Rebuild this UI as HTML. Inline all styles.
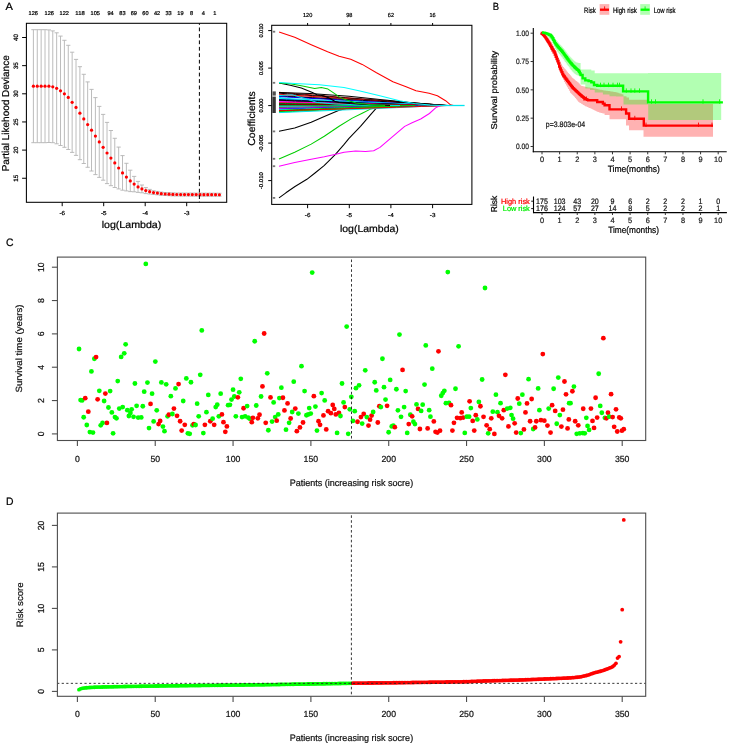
<!DOCTYPE html>
<html><head><meta charset="utf-8"><title>Figure</title>
<style>
html,body{margin:0;padding:0;background:#fff;}
body{width:729px;height:743px;overflow:hidden;}
svg{display:block;will-change:transform;}
text{font-family:"Liberation Sans", sans-serif;text-rendering:geometricPrecision;}
</style></head>
<body>
<svg width="729" height="743" viewBox="0 0 729 743" font-family='"Liberation Sans", sans-serif'>
<rect x="0" y="0" width="729" height="743" fill="#fff"/>
<text x="9.30" y="10.20" font-size="10.4" text-anchor="middle" fill="#000" stroke="#000" stroke-width="0.22" textLength="7.40" lengthAdjust="spacingAndGlyphs" >A</text>
<path d="M33.40,29.70V142.70M31.30,29.70H35.50M31.30,142.70H35.50M37.27,29.70V142.70M35.17,29.70H39.38M35.17,142.70H39.38M41.15,29.70V142.70M39.05,29.70H43.25M39.05,142.70H43.25M45.02,29.70V142.70M42.92,29.70H47.12M42.92,142.70H47.12M48.90,29.90V142.50M46.80,29.90H51.00M46.80,142.50H51.00M52.77,30.90V142.70M50.67,30.90H54.88M50.67,142.70H54.88M56.65,32.80V143.80M54.55,32.80H58.75M54.55,143.80H58.75M60.52,36.10V145.50M58.42,36.10H62.62M58.42,145.50H62.62M64.40,40.30V147.30M62.30,40.30H66.50M62.30,147.30H66.50M68.28,45.30V149.50M66.18,45.30H70.38M66.18,149.50H70.38M72.15,52.20V152.40M70.05,52.20H74.25M70.05,152.40H74.25M76.03,59.40V155.40M73.93,59.40H78.12M73.93,155.40H78.12M79.90,66.70V159.70M77.80,66.70H82.00M77.80,159.70H82.00M83.78,74.30V163.50M81.68,74.30H85.88M81.68,163.50H85.88M87.65,81.90V167.30M85.55,81.90H89.75M85.55,167.30H89.75M91.53,89.40V171.00M89.43,89.40H93.62M89.43,171.00H93.62M95.40,97.60V174.60M93.30,97.60H97.50M93.30,174.60H97.50M99.28,106.40V177.40M97.18,106.40H101.38M97.18,177.40H101.38M103.15,114.40V180.20M101.05,114.40H105.25M101.05,180.20H105.25M107.03,122.40V183.60M104.93,122.40H109.12M104.93,183.60H109.12M110.90,130.50V185.70M108.80,130.50H113.00M108.80,185.70H113.00M114.78,138.30V187.50M112.68,138.30H116.88M112.68,187.50H116.88M118.65,147.10V188.90M116.55,147.10H120.75M116.55,188.90H120.75M122.53,155.60V190.20M120.43,155.60H124.62M120.43,190.20H124.62M126.40,163.30V190.90M124.30,163.30H128.50M124.30,190.90H128.50M130.28,170.20V191.60M128.18,170.20H132.38M128.18,191.60H132.38M134.15,176.40V191.80M132.05,176.40H136.25M132.05,191.80H136.25M138.03,181.40V192.40M135.93,181.40H140.12M135.93,192.40H140.12M141.90,185.00V192.80M139.80,185.00H144.00M139.80,192.80H144.00M145.78,187.60V193.60M143.68,187.60H147.88M143.68,193.60H147.88M149.65,189.40V194.00M147.55,189.40H151.75M147.55,194.00H151.75M153.53,190.70V194.50M151.43,190.70H155.62M151.43,194.50H155.62M157.40,191.40V194.80M155.30,191.40H159.50M155.30,194.80H159.50M161.28,192.10V195.30M159.18,192.10H163.38M159.18,195.30H163.38M165.15,192.50V195.50M163.05,192.50H167.25M163.05,195.50H167.25M169.03,192.70V195.70M166.93,192.70H171.12M166.93,195.70H171.12M172.90,192.90V195.90M170.80,192.90H175.00M170.80,195.90H175.00M176.78,193.02V196.02M174.68,193.02H178.88M174.68,196.02H178.88M180.65,193.04V196.04M178.55,193.04H182.75M178.55,196.04H182.75M184.53,193.06V196.06M182.43,193.06H186.62M182.43,196.06H186.62M188.40,193.08V196.08M186.30,193.08H190.50M186.30,196.08H190.50M192.28,193.10V196.10M190.18,193.10H194.38M190.18,196.10H194.38M196.15,193.12V196.12M194.05,193.12H198.25M194.05,196.12H198.25M200.03,193.14V196.14M197.93,193.14H202.12M197.93,196.14H202.12M203.90,193.16V196.16M201.80,193.16H206.00M201.80,196.16H206.00M207.78,193.18V196.18M205.68,193.18H209.88M205.68,196.18H209.88M211.65,193.20V196.20M209.55,193.20H213.75M209.55,196.20H213.75M215.53,193.22V196.22M213.43,193.22H217.62M213.43,196.22H217.62M219.40,193.24V196.24M217.30,193.24H221.50M217.30,196.24H221.50" stroke="#b4b4b4" stroke-width="0.9" fill="none"/>
<g fill="#ff0000"><circle cx="33.40" cy="86.20" r="1.6"/><circle cx="37.27" cy="86.20" r="1.6"/><circle cx="41.15" cy="86.20" r="1.6"/><circle cx="45.02" cy="86.20" r="1.6"/><circle cx="48.90" cy="86.20" r="1.6"/><circle cx="52.77" cy="86.80" r="1.6"/><circle cx="56.65" cy="88.30" r="1.6"/><circle cx="60.52" cy="90.80" r="1.6"/><circle cx="64.40" cy="93.80" r="1.6"/><circle cx="68.28" cy="97.40" r="1.6"/><circle cx="72.15" cy="102.30" r="1.6"/><circle cx="76.03" cy="107.40" r="1.6"/><circle cx="79.90" cy="113.20" r="1.6"/><circle cx="83.78" cy="118.90" r="1.6"/><circle cx="87.65" cy="124.60" r="1.6"/><circle cx="91.53" cy="130.20" r="1.6"/><circle cx="95.40" cy="136.10" r="1.6"/><circle cx="99.28" cy="141.90" r="1.6"/><circle cx="103.15" cy="147.30" r="1.6"/><circle cx="107.03" cy="153.00" r="1.6"/><circle cx="110.90" cy="158.10" r="1.6"/><circle cx="114.78" cy="162.90" r="1.6"/><circle cx="118.65" cy="168.00" r="1.6"/><circle cx="122.53" cy="172.90" r="1.6"/><circle cx="126.40" cy="177.10" r="1.6"/><circle cx="130.28" cy="180.90" r="1.6"/><circle cx="134.15" cy="184.10" r="1.6"/><circle cx="138.03" cy="186.90" r="1.6"/><circle cx="141.90" cy="188.90" r="1.6"/><circle cx="145.78" cy="190.60" r="1.6"/><circle cx="149.65" cy="191.70" r="1.6"/><circle cx="153.53" cy="192.60" r="1.6"/><circle cx="157.40" cy="193.10" r="1.6"/><circle cx="161.28" cy="193.70" r="1.6"/><circle cx="165.15" cy="194.00" r="1.6"/><circle cx="169.03" cy="194.20" r="1.6"/><circle cx="172.90" cy="194.40" r="1.6"/><circle cx="176.78" cy="194.52" r="1.6"/><circle cx="180.65" cy="194.54" r="1.6"/><circle cx="184.53" cy="194.56" r="1.6"/><circle cx="188.40" cy="194.58" r="1.6"/><circle cx="192.28" cy="194.60" r="1.6"/><circle cx="196.15" cy="194.62" r="1.6"/><circle cx="200.03" cy="194.64" r="1.6"/><circle cx="203.90" cy="194.66" r="1.6"/><circle cx="207.78" cy="194.68" r="1.6"/><circle cx="211.65" cy="194.70" r="1.6"/><circle cx="215.53" cy="194.72" r="1.6"/><circle cx="219.40" cy="194.74" r="1.6"/></g>
<line x1="199.40" y1="23.30" x2="199.40" y2="202.30" stroke="#000" stroke-width="1.0" stroke-dasharray="3.8,2.65" stroke-dashoffset="2.25"/>
<rect x="26.4" y="23.3" width="200.29999999999998" height="179.0" fill="none" stroke="#000" stroke-width="1.05"/>
<line x1="22.10" y1="178.25" x2="26.40" y2="178.25" stroke="#000" stroke-width="1" />
<text x="18.20" y="178.25" font-size="6.3" text-anchor="middle" fill="#000" stroke="#000" stroke-width="0.22" textLength="7.00" lengthAdjust="spacingAndGlyphs" transform="rotate(-90 18.20 178.25)" >15</text>
<line x1="22.10" y1="150.10" x2="26.40" y2="150.10" stroke="#000" stroke-width="1" />
<text x="18.20" y="150.10" font-size="6.3" text-anchor="middle" fill="#000" stroke="#000" stroke-width="0.22" textLength="7.00" lengthAdjust="spacingAndGlyphs" transform="rotate(-90 18.20 150.10)" >20</text>
<line x1="22.10" y1="121.95" x2="26.40" y2="121.95" stroke="#000" stroke-width="1" />
<text x="18.20" y="121.95" font-size="6.3" text-anchor="middle" fill="#000" stroke="#000" stroke-width="0.22" textLength="7.00" lengthAdjust="spacingAndGlyphs" transform="rotate(-90 18.20 121.95)" >25</text>
<line x1="22.10" y1="93.80" x2="26.40" y2="93.80" stroke="#000" stroke-width="1" />
<text x="18.20" y="93.80" font-size="6.3" text-anchor="middle" fill="#000" stroke="#000" stroke-width="0.22" textLength="7.00" lengthAdjust="spacingAndGlyphs" transform="rotate(-90 18.20 93.80)" >30</text>
<line x1="22.10" y1="65.65" x2="26.40" y2="65.65" stroke="#000" stroke-width="1" />
<text x="18.20" y="65.65" font-size="6.3" text-anchor="middle" fill="#000" stroke="#000" stroke-width="0.22" textLength="7.00" lengthAdjust="spacingAndGlyphs" transform="rotate(-90 18.20 65.65)" >35</text>
<line x1="22.10" y1="37.50" x2="26.40" y2="37.50" stroke="#000" stroke-width="1" />
<text x="18.20" y="37.50" font-size="6.3" text-anchor="middle" fill="#000" stroke="#000" stroke-width="0.22" textLength="7.00" lengthAdjust="spacingAndGlyphs" transform="rotate(-90 18.20 37.50)" >40</text>
<line x1="62.20" y1="202.30" x2="62.20" y2="206.20" stroke="#000" stroke-width="1" />
<text x="62.20" y="215.20" font-size="5.8" text-anchor="middle" fill="#000" stroke="#000" stroke-width="0.22" textLength="5.60" lengthAdjust="spacingAndGlyphs" >-6</text>
<line x1="103.70" y1="202.30" x2="103.70" y2="206.20" stroke="#000" stroke-width="1" />
<text x="103.70" y="215.20" font-size="5.8" text-anchor="middle" fill="#000" stroke="#000" stroke-width="0.22" textLength="5.60" lengthAdjust="spacingAndGlyphs" >-5</text>
<line x1="145.20" y1="202.30" x2="145.20" y2="206.20" stroke="#000" stroke-width="1" />
<text x="145.20" y="215.20" font-size="5.8" text-anchor="middle" fill="#000" stroke="#000" stroke-width="0.22" textLength="5.60" lengthAdjust="spacingAndGlyphs" >-4</text>
<line x1="186.70" y1="202.30" x2="186.70" y2="206.20" stroke="#000" stroke-width="1" />
<text x="186.70" y="215.20" font-size="5.8" text-anchor="middle" fill="#000" stroke="#000" stroke-width="0.22" textLength="5.60" lengthAdjust="spacingAndGlyphs" >-3</text>
<text x="33.30" y="15.10" font-size="5.6" text-anchor="middle" fill="#000" stroke="#000" stroke-width="0.22" textLength="9.36" lengthAdjust="spacingAndGlyphs" >126</text>
<text x="49.20" y="15.10" font-size="5.6" text-anchor="middle" fill="#000" stroke="#000" stroke-width="0.22" textLength="9.36" lengthAdjust="spacingAndGlyphs" >126</text>
<text x="64.20" y="15.10" font-size="5.6" text-anchor="middle" fill="#000" stroke="#000" stroke-width="0.22" textLength="9.36" lengthAdjust="spacingAndGlyphs" >122</text>
<text x="80.00" y="15.10" font-size="5.6" text-anchor="middle" fill="#000" stroke="#000" stroke-width="0.22" textLength="9.36" lengthAdjust="spacingAndGlyphs" >118</text>
<text x="95.30" y="15.10" font-size="5.6" text-anchor="middle" fill="#000" stroke="#000" stroke-width="0.22" textLength="9.36" lengthAdjust="spacingAndGlyphs" >105</text>
<text x="110.60" y="15.10" font-size="5.6" text-anchor="middle" fill="#000" stroke="#000" stroke-width="0.22" textLength="6.24" lengthAdjust="spacingAndGlyphs" >94</text>
<text x="122.40" y="15.10" font-size="5.6" text-anchor="middle" fill="#000" stroke="#000" stroke-width="0.22" textLength="6.24" lengthAdjust="spacingAndGlyphs" >83</text>
<text x="133.80" y="15.10" font-size="5.6" text-anchor="middle" fill="#000" stroke="#000" stroke-width="0.22" textLength="6.24" lengthAdjust="spacingAndGlyphs" >69</text>
<text x="145.40" y="15.10" font-size="5.6" text-anchor="middle" fill="#000" stroke="#000" stroke-width="0.22" textLength="6.24" lengthAdjust="spacingAndGlyphs" >60</text>
<text x="157.00" y="15.10" font-size="5.6" text-anchor="middle" fill="#000" stroke="#000" stroke-width="0.22" textLength="6.24" lengthAdjust="spacingAndGlyphs" >42</text>
<text x="168.60" y="15.10" font-size="5.6" text-anchor="middle" fill="#000" stroke="#000" stroke-width="0.22" textLength="6.24" lengthAdjust="spacingAndGlyphs" >33</text>
<text x="180.40" y="15.10" font-size="5.6" text-anchor="middle" fill="#000" stroke="#000" stroke-width="0.22" textLength="6.24" lengthAdjust="spacingAndGlyphs" >19</text>
<text x="191.60" y="15.10" font-size="5.6" text-anchor="middle" fill="#000" stroke="#000" stroke-width="0.22" textLength="3.12" lengthAdjust="spacingAndGlyphs" >8</text>
<text x="203.40" y="15.10" font-size="5.6" text-anchor="middle" fill="#000" stroke="#000" stroke-width="0.22" textLength="3.12" lengthAdjust="spacingAndGlyphs" >4</text>
<text x="214.80" y="15.10" font-size="5.6" text-anchor="middle" fill="#000" stroke="#000" stroke-width="0.22" textLength="3.12" lengthAdjust="spacingAndGlyphs" >1</text>
<text x="9.30" y="113.30" font-size="10.0" text-anchor="middle" fill="#000" stroke="#000" stroke-width="0.22" textLength="116.00" lengthAdjust="spacingAndGlyphs" transform="rotate(-90 9.30 113.30)" >Partial Likehood Deviance</text>
<text x="131.50" y="227.90" font-size="10.0" text-anchor="middle" fill="#000" stroke="#000" stroke-width="0.22" textLength="59.70" lengthAdjust="spacingAndGlyphs" >log(Lambda)</text>
<polyline points="279.00,131.30 294.70,128.00 311.20,122.20 324.30,116.50 339.10,110.20 347.40,108.20 360.00,107.00 380.00,106.00 400.00,105.50" fill="none" stroke="#000" stroke-width="1.05" stroke-linejoin="round"/>
<polyline points="279.00,158.90 294.70,152.30 311.20,144.10 324.30,136.20 339.10,126.30 352.30,118.10 362.20,113.20 370.40,109.10 376.00,107.80 385.00,106.50 400.00,105.50" fill="none" stroke="#00cd00" stroke-width="1.05" stroke-linejoin="round"/>
<polyline points="279.00,197.90 285.90,192.80 295.00,186.50 306.90,179.30 315.00,173.00 324.10,165.70 335.20,154.60 343.90,144.70 349.00,138.40 360.50,126.30 370.40,114.80 377.00,107.40 382.00,106.30 392.00,105.50" fill="none" stroke="#000" stroke-width="1.05" stroke-linejoin="round"/>
<polyline points="279.00,92.30 287.35,92.96 295.70,93.62 304.05,94.28 312.40,94.94 320.75,95.60 329.10,96.26 337.45,96.92 345.80,97.58 354.15,98.24 362.50,98.90 370.85,99.56 379.20,100.22 387.55,100.88 395.90,101.54 404.25,102.20 412.60,102.86 420.95,103.52 429.30,104.18 437.65,104.84 446.00,105.50" fill="none" stroke="#b00000" stroke-width="1.0" />
<polyline points="279.00,93.20 287.45,93.81 295.90,94.43 304.35,95.05 312.80,95.66 321.25,96.28 329.70,96.89 338.15,97.50 346.60,98.12 355.05,98.73 363.50,99.35 371.95,99.97 380.40,100.58 388.85,101.20 397.30,101.81 405.75,102.42 414.20,103.04 422.65,103.66 431.10,104.27 439.55,104.89 448.00,105.50" fill="none" stroke="#000000" stroke-width="1.0" />
<polyline points="279.00,94.20 287.30,94.77 295.60,95.33 303.90,95.90 312.20,96.46 320.50,97.03 328.80,97.59 337.10,98.16 345.40,98.72 353.70,99.28 362.00,99.85 370.30,100.42 378.60,100.98 386.90,101.55 395.20,102.11 403.50,102.67 411.80,103.24 420.10,103.81 428.40,104.37 436.70,104.94 445.00,105.50" fill="none" stroke="#ee0000" stroke-width="1.0" />
<polyline points="279.00,95.20 286.30,95.79 293.60,96.38 300.90,96.96 308.20,97.53 315.50,98.10 322.80,98.67 330.10,99.22 337.40,99.78 344.70,100.32 352.00,100.86 359.30,101.39 366.60,101.91 373.90,102.42 381.20,102.92 388.50,103.41 395.80,103.88 403.10,104.34 410.40,104.77 417.70,105.17 425.00,105.50" fill="none" stroke="#ee0000" stroke-width="1.0" />
<polyline points="279.00,96.00 287.35,96.43 295.70,96.86 304.05,97.29 312.40,97.73 320.75,98.17 329.10,98.61 337.45,99.05 345.80,99.50 354.15,99.95 362.50,100.41 370.85,100.87 379.20,101.34 387.55,101.81 395.90,102.29 404.25,102.77 412.60,103.27 420.95,103.78 429.30,104.30 437.65,104.86 446.00,105.50" fill="none" stroke="#000000" stroke-width="1.0" />
<polyline points="279.00,96.60 286.45,97.00 293.90,97.41 301.35,97.81 308.80,98.22 316.25,98.63 323.70,99.04 331.15,99.46 338.60,99.88 346.05,100.30 353.50,100.73 360.95,101.16 368.40,101.60 375.85,102.04 383.30,102.49 390.75,102.94 398.20,103.41 405.65,103.89 413.10,104.38 420.55,104.90 428.00,105.50" fill="none" stroke="#0000ff" stroke-width="1.0" />
<polyline points="279.00,97.30 281.55,97.77 284.10,98.24 286.65,98.70 289.20,99.16 291.75,99.61 294.30,100.06 296.85,100.50 299.40,100.94 301.95,101.38 304.50,101.80 307.05,102.23 309.60,102.64 312.15,103.05 314.70,103.45 317.25,103.83 319.80,104.21 322.35,104.57 324.90,104.92 327.45,105.24 330.00,105.50" fill="none" stroke="#00e5ee" stroke-width="1.0" />
<polyline points="279.00,98.20 287.05,98.56 295.10,98.93 303.15,99.30 311.20,99.66 319.25,100.03 327.30,100.39 335.35,100.75 343.40,101.12 351.45,101.48 359.50,101.85 367.55,102.22 375.60,102.58 383.65,102.95 391.70,103.31 399.75,103.67 407.80,104.04 415.85,104.41 423.90,104.77 431.95,105.14 440.00,105.50" fill="none" stroke="#00e5ee" stroke-width="1.0" />
<polyline points="279.00,99.00 286.95,99.33 294.90,99.65 302.85,99.97 310.80,100.30 318.75,100.62 326.70,100.95 334.65,101.28 342.60,101.60 350.55,101.92 358.50,102.25 366.45,102.58 374.40,102.90 382.35,103.22 390.30,103.55 398.25,103.88 406.20,104.20 414.15,104.53 422.10,104.85 430.05,105.17 438.00,105.50" fill="none" stroke="#00e5ee" stroke-width="1.0" />
<polyline points="279.00,99.60 286.55,99.89 294.10,100.19 301.65,100.48 309.20,100.78 316.75,101.07 324.30,101.37 331.85,101.66 339.40,101.96 346.95,102.25 354.50,102.55 362.05,102.84 369.60,103.14 377.15,103.44 384.70,103.73 392.25,104.03 399.80,104.32 407.35,104.61 414.90,104.91 422.45,105.20 430.00,105.50" fill="none" stroke="#000080" stroke-width="1.0" />
<polyline points="279.00,100.20 286.85,100.50 294.70,100.80 302.55,101.10 310.40,101.40 318.25,101.69 326.10,101.98 333.95,102.27 341.80,102.55 349.65,102.84 357.50,103.11 365.35,103.38 373.20,103.65 381.05,103.92 388.90,104.17 396.75,104.42 404.60,104.67 412.45,104.90 420.30,105.12 428.15,105.33 436.00,105.50" fill="none" stroke="#000000" stroke-width="1.0" />
<polyline points="279.00,100.90 287.25,101.16 295.50,101.42 303.75,101.68 312.00,101.94 320.25,102.20 328.50,102.45 336.75,102.70 345.00,102.94 353.25,103.19 361.50,103.43 369.75,103.66 378.00,103.90 386.25,104.12 394.50,104.35 402.75,104.57 411.00,104.78 419.25,104.98 427.50,105.17 435.75,105.35 444.00,105.50" fill="none" stroke="#000000" stroke-width="1.0" />
<polyline points="279.00,101.60 286.35,101.82 293.70,102.05 301.05,102.26 308.40,102.48 315.75,102.70 323.10,102.91 330.45,103.12 337.80,103.33 345.15,103.54 352.50,103.74 359.85,103.94 367.20,104.14 374.55,104.33 381.90,104.52 389.25,104.71 396.60,104.89 403.95,105.06 411.30,105.22 418.65,105.38 426.00,105.50" fill="none" stroke="#ff00ff" stroke-width="1.0" />
<polyline points="279.00,102.30 287.05,102.46 295.10,102.62 303.15,102.78 311.20,102.94 319.25,103.10 327.30,103.26 335.35,103.42 343.40,103.58 351.45,103.74 359.50,103.90 367.55,104.06 375.60,104.22 383.65,104.38 391.70,104.54 399.75,104.70 407.80,104.86 415.85,105.02 423.90,105.18 431.95,105.34 440.00,105.50" fill="none" stroke="#ff00ff" stroke-width="1.0" />
<polyline points="279.00,102.80 287.35,102.94 295.70,103.07 304.05,103.20 312.40,103.34 320.75,103.47 329.10,103.61 337.45,103.75 345.80,103.88 354.15,104.02 362.50,104.15 370.85,104.28 379.20,104.42 387.55,104.55 395.90,104.69 404.25,104.83 412.60,104.96 420.95,105.09 429.30,105.23 437.65,105.36 446.00,105.50" fill="none" stroke="#ee0000" stroke-width="1.0" />
<polyline points="279.00,103.40 285.65,103.51 292.30,103.61 298.95,103.72 305.60,103.82 312.25,103.93 318.90,104.03 325.55,104.14 332.20,104.24 338.85,104.34 345.50,104.45 352.15,104.56 358.80,104.66 365.45,104.77 372.10,104.87 378.75,104.97 385.40,105.08 392.05,105.19 398.70,105.29 405.35,105.39 412.00,105.50" fill="none" stroke="#00cd00" stroke-width="1.0" />
<polyline points="279.00,104.00 287.30,104.09 295.60,104.17 303.90,104.26 312.20,104.34 320.50,104.42 328.80,104.50 337.10,104.59 345.40,104.67 353.70,104.75 362.00,104.82 370.30,104.90 378.60,104.98 386.90,105.05 395.20,105.12 403.50,105.20 411.80,105.26 420.10,105.33 428.40,105.39 436.70,105.45 445.00,105.50" fill="none" stroke="#000000" stroke-width="1.0" />
<polyline points="279.00,104.50 287.25,104.55 295.50,104.59 303.75,104.64 312.00,104.68 320.25,104.73 328.50,104.77 336.75,104.82 345.00,104.87 353.25,104.92 361.50,104.96 369.75,105.01 378.00,105.06 386.25,105.11 394.50,105.16 402.75,105.21 411.00,105.27 419.25,105.32 427.50,105.37 435.75,105.43 444.00,105.50" fill="none" stroke="#ee0000" stroke-width="1.0" />
<polyline points="279.00,105.00 286.95,105.02 294.90,105.05 302.85,105.07 310.80,105.09 318.75,105.11 326.70,105.14 334.65,105.16 342.60,105.18 350.55,105.21 358.50,105.23 366.45,105.26 374.40,105.28 382.35,105.31 390.30,105.33 398.25,105.36 406.20,105.38 414.15,105.41 422.10,105.44 430.05,105.47 438.00,105.50" fill="none" stroke="#000000" stroke-width="1.0" />
<polyline points="279.00,105.60 287.15,105.59 295.30,105.59 303.45,105.58 311.60,105.58 319.75,105.57 327.90,105.57 336.05,105.56 344.20,105.56 352.35,105.55 360.50,105.55 368.65,105.55 376.80,105.54 384.95,105.53 393.10,105.53 401.25,105.53 409.40,105.52 417.55,105.52 425.70,105.51 433.85,105.50 442.00,105.50" fill="none" stroke="#008b8b" stroke-width="1.0" />
<polyline points="279.00,106.20 285.30,106.17 291.60,106.14 297.90,106.10 304.20,106.07 310.50,106.04 316.80,106.01 323.10,105.98 329.40,105.94 335.70,105.91 342.00,105.88 348.30,105.84 354.60,105.81 360.90,105.77 367.20,105.74 373.50,105.70 379.80,105.66 386.10,105.63 392.40,105.59 398.70,105.55 405.00,105.50" fill="none" stroke="#00cd00" stroke-width="1.0" />
<polyline points="279.00,106.80 286.85,106.73 294.70,106.67 302.55,106.61 310.40,106.54 318.25,106.47 326.10,106.41 333.95,106.34 341.80,106.28 349.65,106.22 357.50,106.15 365.35,106.08 373.20,106.02 381.05,105.95 388.90,105.89 396.75,105.83 404.60,105.76 412.45,105.69 420.30,105.63 428.15,105.56 436.00,105.50" fill="none" stroke="#00e5ee" stroke-width="1.0" />
<polyline points="279.00,107.40 287.40,107.31 295.80,107.23 304.20,107.14 312.60,107.05 321.00,106.97 329.40,106.88 337.80,106.79 346.20,106.70 354.60,106.61 363.00,106.52 371.40,106.43 379.80,106.33 388.20,106.24 396.60,106.14 405.00,106.05 413.40,105.95 421.80,105.84 430.20,105.74 438.60,105.63 447.00,105.50" fill="none" stroke="#ee0000" stroke-width="1.0" />
<polyline points="279.00,108.00 286.05,107.88 293.10,107.75 300.15,107.62 307.20,107.50 314.25,107.38 321.30,107.25 328.35,107.12 335.40,107.00 342.45,106.88 349.50,106.75 356.55,106.62 363.60,106.50 370.65,106.38 377.70,106.25 384.75,106.12 391.80,106.00 398.85,105.88 405.90,105.75 412.95,105.62 420.00,105.50" fill="none" stroke="#008b8b" stroke-width="1.0" />
<polyline points="279.00,108.60 287.10,108.42 295.20,108.25 303.30,108.07 311.40,107.90 319.50,107.73 327.60,107.56 335.70,107.39 343.80,107.22 351.90,107.06 360.00,106.90 368.10,106.74 376.20,106.58 384.30,106.43 392.40,106.28 400.50,106.13 408.60,105.99 416.70,105.85 424.80,105.72 432.90,105.60 441.00,105.50" fill="none" stroke="#ff00ff" stroke-width="1.0" />
<polyline points="279.00,109.20 285.95,108.99 292.90,108.78 299.85,108.57 306.80,108.36 313.75,108.16 320.70,107.96 327.65,107.75 334.60,107.56 341.55,107.36 348.50,107.17 355.45,106.98 362.40,106.79 369.35,106.61 376.30,106.43 383.25,106.25 390.20,106.08 397.15,105.92 404.10,105.76 411.05,105.62 418.00,105.50" fill="none" stroke="#0000ff" stroke-width="1.0" />
<polyline points="279.00,109.80 287.05,109.55 295.10,109.31 303.15,109.07 311.20,108.83 319.25,108.59 327.30,108.35 335.35,108.12 343.40,107.89 351.45,107.66 359.50,107.44 367.55,107.22 375.60,107.00 383.65,106.79 391.70,106.58 399.75,106.37 407.80,106.18 415.85,105.99 423.90,105.80 431.95,105.64 440.00,105.50" fill="none" stroke="#00e5ee" stroke-width="1.0" />
<polyline points="279.00,110.40 285.55,110.12 292.10,109.84 298.65,109.56 305.20,109.29 311.75,109.02 318.30,108.75 324.85,108.49 331.40,108.22 337.95,107.96 344.50,107.71 351.05,107.46 357.60,107.21 364.15,106.97 370.70,106.73 377.25,106.50 383.80,106.27 390.35,106.05 396.90,105.85 403.45,105.66 410.00,105.50" fill="none" stroke="#00cd00" stroke-width="1.0" />
<polyline points="279.00,111.00 287.25,110.68 295.50,110.37 303.75,110.06 312.00,109.76 320.25,109.45 328.50,109.15 336.75,108.85 345.00,108.56 353.25,108.27 361.50,107.98 369.75,107.70 378.00,107.42 386.25,107.14 394.50,106.88 402.75,106.62 411.00,106.36 419.25,106.12 427.50,105.89 435.75,105.68 444.00,105.50" fill="none" stroke="#000000" stroke-width="1.0" />
<polyline points="279.00,111.60 285.15,111.29 291.30,110.99 297.45,110.69 303.60,110.38 309.75,110.07 315.90,109.77 322.05,109.47 328.20,109.16 334.35,108.86 340.50,108.55 346.65,108.24 352.80,107.94 358.95,107.63 365.10,107.33 371.25,107.03 377.40,106.72 383.55,106.42 389.70,106.11 395.85,105.81 402.00,105.50" fill="none" stroke="#00cd00" stroke-width="1.0" />
<polyline points="279.00,112.20 285.80,111.87 292.60,111.53 299.40,111.20 306.20,110.86 313.00,110.53 319.80,110.19 326.60,109.86 333.40,109.52 340.20,109.19 347.00,108.85 353.80,108.52 360.60,108.18 367.40,107.84 374.20,107.51 381.00,107.17 387.80,106.84 394.60,106.50 401.40,106.17 408.20,105.83 415.00,105.50" fill="none" stroke="#00cd00" stroke-width="1.0" />
<polyline points="279.00,112.60 287.00,112.28 295.00,111.96 303.00,111.63 311.00,111.31 319.00,110.98 327.00,110.65 335.00,110.32 343.00,109.98 351.00,109.65 359.00,109.30 367.00,108.96 375.00,108.61 383.00,108.26 391.00,107.90 399.00,107.54 407.00,107.17 415.00,106.79 423.00,106.39 431.00,105.98 439.00,105.50" fill="none" stroke="#00e5ee" stroke-width="1.0" />
<polyline points="279.00,110.70 287.40,110.47 295.80,110.23 304.20,109.99 312.60,109.75 321.00,109.51 329.40,109.27 337.80,109.03 346.20,108.78 354.60,108.54 363.00,108.29 371.40,108.03 379.80,107.78 388.20,107.52 396.60,107.26 405.00,106.99 413.40,106.72 421.80,106.44 430.20,106.15 438.60,105.85 447.00,105.50" fill="none" stroke="#ee0000" stroke-width="1.0" />
<polyline points="279.00,95.60 292.00,94.80 305.00,98.50 317.20,102.50 335.00,104.00 360.00,104.80 400.00,105.50" fill="none" stroke="#00e5ee" stroke-width="1.0" />
<polyline points="279.00,92.40 310.00,93.60 349.00,96.30 380.00,99.50 410.00,102.50 430.00,104.30 447.00,105.50" fill="none" stroke="#000" stroke-width="1.05" stroke-linejoin="round"/>
<polyline points="279.10,83.00 290.20,85.20 301.30,88.00 312.40,92.40 316.90,94.70 323.60,95.80 329.10,98.00 334.70,101.30 339.10,102.40 350.00,103.60 370.00,104.80 390.00,105.50" fill="none" stroke="#000" stroke-width="1.05" stroke-linejoin="round"/>
<polyline points="279.10,83.00 290.00,83.80 301.30,85.80 314.70,88.60 321.30,87.40 328.00,89.10 334.70,93.60 339.10,96.90 343.60,99.10 349.00,100.80 356.00,103.00 370.00,104.60 385.00,105.50" fill="none" stroke="#00cd00" stroke-width="1.05" stroke-linejoin="round"/>
<polyline points="279.00,166.30 294.70,162.60 311.20,159.30 324.30,156.80 335.80,154.30 344.10,152.30 355.60,151.00 365.50,151.40 373.70,150.70 380.00,147.40 392.30,136.90 404.70,126.40 412.10,122.70 420.70,119.00 429.40,113.50 435.60,107.90 439.30,106.00 441.00,105.50" fill="none" stroke="#ff00ff" stroke-width="1.05" stroke-linejoin="round"/>
<polyline points="279.10,31.90 294.70,37.30 311.20,44.70 327.60,51.80 339.10,56.20 350.70,59.30 362.20,64.40 376.50,72.70 392.90,81.70 406.10,86.70 416.00,90.80 429.10,93.30 437.40,95.70 445.60,100.70 450.50,104.80 453.50,105.50" fill="none" stroke="#ff0000" stroke-width="1.05" stroke-linejoin="round"/>
<polyline points="279.00,82.60 294.70,83.40 319.40,84.70 344.00,87.50 360.00,91.10 379.80,95.70 399.50,100.70 414.30,103.60 430.00,105.00 441.00,105.50" fill="none" stroke="#00ffff" stroke-width="1.05" stroke-linejoin="round"/>
<line x1="440.00" y1="105.50" x2="464.60" y2="105.50" stroke="#00e5ee" stroke-width="1.3" />
<rect x="272.6" y="91.4" width="3.2" height="4.2" fill="#222" opacity="0.8"/>
<rect x="272.4" y="96.6" width="3.4" height="16.4" fill="#111" opacity="0.85"/>
<rect x="272.8" y="30.8" width="2.4" height="1.8" fill="#555" opacity="0.8"/>
<rect x="272.8" y="81.9" width="2.4" height="1.8" fill="#555" opacity="0.8"/>
<rect x="272.8" y="130.5" width="2.4" height="1.8" fill="#555" opacity="0.8"/>
<rect x="272.8" y="157.9" width="2.4" height="1.8" fill="#555" opacity="0.8"/>
<rect x="272.8" y="165.3" width="2.4" height="1.8" fill="#555" opacity="0.8"/>
<rect x="272.8" y="197.0" width="2.4" height="1.8" fill="#555" opacity="0.8"/>
<rect x="271.7" y="25.3" width="200.2" height="179.1" fill="none" stroke="#000" stroke-width="1.05"/>
<line x1="268.20" y1="30.60" x2="271.70" y2="30.60" stroke="#000" stroke-width="1" />
<text x="263.30" y="30.60" font-size="5.6" text-anchor="middle" fill="#000" stroke="#000" stroke-width="0.22" textLength="14.00" lengthAdjust="spacingAndGlyphs" transform="rotate(-90 263.30 30.60)" >0.010</text>
<line x1="268.20" y1="68.10" x2="271.70" y2="68.10" stroke="#000" stroke-width="1" />
<text x="263.30" y="68.10" font-size="5.6" text-anchor="middle" fill="#000" stroke="#000" stroke-width="0.22" textLength="14.00" lengthAdjust="spacingAndGlyphs" transform="rotate(-90 263.30 68.10)" >0.005</text>
<line x1="268.20" y1="105.60" x2="271.70" y2="105.60" stroke="#000" stroke-width="1" />
<text x="263.30" y="105.60" font-size="5.6" text-anchor="middle" fill="#000" stroke="#000" stroke-width="0.22" textLength="14.00" lengthAdjust="spacingAndGlyphs" transform="rotate(-90 263.30 105.60)" >0.000</text>
<line x1="268.20" y1="143.10" x2="271.70" y2="143.10" stroke="#000" stroke-width="1" />
<text x="263.30" y="143.10" font-size="5.6" text-anchor="middle" fill="#000" stroke="#000" stroke-width="0.22" textLength="17.20" lengthAdjust="spacingAndGlyphs" transform="rotate(-90 263.30 143.10)" >-0.005</text>
<line x1="268.20" y1="180.60" x2="271.70" y2="180.60" stroke="#000" stroke-width="1" />
<text x="263.30" y="180.60" font-size="5.6" text-anchor="middle" fill="#000" stroke="#000" stroke-width="0.22" textLength="17.20" lengthAdjust="spacingAndGlyphs" transform="rotate(-90 263.30 180.60)" >-0.010</text>
<line x1="307.60" y1="204.40" x2="307.60" y2="208.20" stroke="#000" stroke-width="1" />
<text x="307.60" y="217.20" font-size="5.8" text-anchor="middle" fill="#000" stroke="#000" stroke-width="0.22" textLength="5.60" lengthAdjust="spacingAndGlyphs" >-6</text>
<line x1="349.30" y1="204.40" x2="349.30" y2="208.20" stroke="#000" stroke-width="1" />
<text x="349.30" y="217.20" font-size="5.8" text-anchor="middle" fill="#000" stroke="#000" stroke-width="0.22" textLength="5.60" lengthAdjust="spacingAndGlyphs" >-5</text>
<line x1="390.90" y1="204.40" x2="390.90" y2="208.20" stroke="#000" stroke-width="1" />
<text x="390.90" y="217.20" font-size="5.8" text-anchor="middle" fill="#000" stroke="#000" stroke-width="0.22" textLength="5.60" lengthAdjust="spacingAndGlyphs" >-4</text>
<line x1="432.60" y1="204.40" x2="432.60" y2="208.20" stroke="#000" stroke-width="1" />
<text x="432.60" y="217.20" font-size="5.8" text-anchor="middle" fill="#000" stroke="#000" stroke-width="0.22" textLength="5.60" lengthAdjust="spacingAndGlyphs" >-3</text>
<line x1="307.60" y1="25.30" x2="307.60" y2="23.00" stroke="#000" stroke-width="1" />
<text x="307.60" y="17.10" font-size="5.8" text-anchor="middle" fill="#000" stroke="#000" stroke-width="0.22" textLength="9.30" lengthAdjust="spacingAndGlyphs" >120</text>
<line x1="349.30" y1="25.30" x2="349.30" y2="23.00" stroke="#000" stroke-width="1" />
<text x="349.30" y="17.10" font-size="5.8" text-anchor="middle" fill="#000" stroke="#000" stroke-width="0.22" textLength="6.20" lengthAdjust="spacingAndGlyphs" >98</text>
<line x1="390.90" y1="25.30" x2="390.90" y2="23.00" stroke="#000" stroke-width="1" />
<text x="390.90" y="17.10" font-size="5.8" text-anchor="middle" fill="#000" stroke="#000" stroke-width="0.22" textLength="6.20" lengthAdjust="spacingAndGlyphs" >62</text>
<line x1="432.60" y1="25.30" x2="432.60" y2="23.00" stroke="#000" stroke-width="1" />
<text x="432.60" y="17.10" font-size="5.8" text-anchor="middle" fill="#000" stroke="#000" stroke-width="0.22" textLength="6.20" lengthAdjust="spacingAndGlyphs" >16</text>
<text x="254.60" y="118.50" font-size="10.2" text-anchor="middle" fill="#000" stroke="#000" stroke-width="0.22" textLength="54.40" lengthAdjust="spacingAndGlyphs" transform="rotate(-90 254.60 118.50)" >Coefficients</text>
<text x="369.40" y="231.90" font-size="10.0" text-anchor="middle" fill="#000" stroke="#000" stroke-width="0.22" textLength="58.90" lengthAdjust="spacingAndGlyphs" >log(Lambda)</text>
<text x="496.00" y="10.30" font-size="10.4" text-anchor="middle" fill="#000" stroke="#000" stroke-width="0.22" textLength="6.30" lengthAdjust="spacingAndGlyphs" >B</text>
<polygon points="541.00,33.00 542.00,33.00 542.00,33.60 542.99,33.60 542.99,34.20 543.99,34.20 543.99,34.79 544.99,34.79 544.99,35.39 545.98,35.39 545.98,35.99 546.98,35.99 546.98,37.17 547.97,37.17 547.97,38.37 548.97,38.37 548.97,39.56 549.97,39.56 549.97,40.76 550.96,40.76 550.96,41.96 551.96,41.96 551.96,43.92 552.96,43.92 552.96,45.91 553.95,45.91 553.95,47.90 554.95,47.90 554.95,49.90 555.95,49.90 555.95,52.22 556.94,52.22 556.94,54.57 557.94,54.57 557.94,56.91 558.93,56.91 558.93,59.21 559.93,59.21 559.93,61.48 560.93,61.48 560.93,63.74 561.92,63.74 561.92,65.77 562.92,65.77 562.92,66.97 563.92,66.97 563.92,68.17 564.91,68.17 564.91,69.37 565.91,69.37 565.91,70.55 566.90,70.55 566.90,71.72 567.90,71.72 567.90,72.90 568.90,72.90 568.90,74.09 569.89,74.09 569.89,75.33 570.89,75.33 570.89,76.57 571.89,76.57 571.89,77.77 572.88,77.77 572.88,78.56 573.88,78.56 573.88,79.35 574.88,79.35 574.88,80.14 575.87,80.14 575.87,80.93 576.87,80.93 576.87,81.72 577.86,81.72 577.86,82.52 578.86,82.52 578.86,83.44 579.86,83.44 579.86,84.72 580.85,84.72 580.85,85.84 581.85,85.84 581.85,86.08 582.85,86.08 582.85,86.32 583.84,86.32 583.84,86.56 584.84,86.56 584.84,86.80 585.84,86.80 585.84,87.04 586.83,87.04 586.83,87.26 587.83,87.26 587.83,87.43 588.82,87.43 588.82,87.60 589.82,87.60 589.82,87.77 590.82,87.77 590.82,87.94 591.81,87.94 591.81,88.11 592.81,88.11 592.81,88.28 593.81,88.28 593.81,88.45 594.80,88.45 594.80,88.62 595.80,88.62 595.80,88.83 596.80,88.83 596.80,89.03 597.79,89.03 597.79,89.24 598.79,89.24 598.79,89.45 599.78,89.45 599.78,89.65 600.78,89.65 600.78,89.86 601.78,89.86 601.78,90.07 602.77,90.07 602.77,90.27 603.77,90.27 603.77,90.42 604.77,90.42 604.77,90.55 605.76,90.55 605.76,90.69 606.76,90.69 606.76,90.83 607.75,90.83 607.75,90.96 608.75,90.96 608.75,91.10 609.75,91.10 609.75,91.24 610.74,91.24 610.74,91.41 611.74,91.41 611.74,91.57 612.74,91.57 612.74,91.74 613.73,91.74 613.73,91.91 614.73,91.91 614.73,92.07 615.73,92.07 615.73,92.24 616.72,92.24 616.72,92.51 617.72,92.51 617.72,92.84 618.71,92.84 618.71,93.17 619.71,93.17 619.71,93.50 620.71,93.50 620.71,93.84 621.70,93.84 621.70,94.17 622.70,94.17 622.70,94.50 623.50,94.50 623.50,96.20 626.50,96.20 626.50,97.50 629.00,97.50 629.00,99.80 648.00,99.80 648.00,103.90 713.00,103.90 713.00,103.90 713.00,136.70 713.00,136.70 643.50,136.70 643.50,130.30 629.00,130.30 629.00,125.60 626.00,125.60 626.00,119.30 609.50,119.30 609.50,115.10 604.60,115.10 604.60,113.50 602.90,113.50 602.90,113.22 601.90,113.22 601.90,112.94 600.90,112.94 600.90,112.66 599.90,112.66 599.90,112.38 598.91,112.38 598.91,112.10 597.91,112.10 597.91,111.75 596.91,111.75 596.91,111.26 595.91,111.26 595.91,110.76 594.91,110.76 594.91,110.26 593.91,110.26 593.91,109.76 592.92,109.76 592.92,109.26 591.92,109.26 591.92,108.76 590.92,108.76 590.92,108.31 589.92,108.31 589.92,107.88 588.92,107.88 588.92,107.45 587.92,107.45 587.92,107.02 586.93,107.02 586.93,106.59 585.93,106.59 585.93,106.16 584.93,106.16 584.93,105.56 583.93,105.56 583.93,104.94 582.93,104.94 582.93,104.32 581.93,104.32 581.93,103.70 580.94,103.70 580.94,103.08 579.94,103.08 579.94,102.46 578.94,102.46 578.94,101.68 577.94,101.68 577.94,100.47 576.94,100.47 576.94,99.25 575.94,99.25 575.94,98.03 574.95,98.03 574.95,96.85 573.95,96.85 573.95,95.85 572.95,95.85 572.95,94.85 571.95,94.85 571.95,93.85 570.95,93.85 570.95,92.81 569.95,92.81 569.95,90.86 568.95,90.86 568.95,88.92 567.96,88.92 567.96,87.18 566.96,87.18 566.96,85.43 565.96,85.43 565.96,83.68 564.96,83.68 564.96,81.92 563.96,81.92 563.96,79.87 562.96,79.87 562.96,77.81 561.97,77.81 561.97,75.76 560.97,75.76 560.97,73.22 559.97,73.22 559.97,70.40 558.97,70.40 558.97,67.57 557.97,67.57 557.97,64.75 556.97,64.75 556.97,61.95 555.98,61.95 555.98,59.95 554.98,59.95 554.98,57.96 553.98,57.96 553.98,55.96 552.98,55.96 552.98,53.96 551.98,53.96 551.98,51.96 550.98,51.96 550.98,49.77 549.99,49.77 549.99,47.57 548.99,47.57 548.99,45.38 547.99,45.38 547.99,43.18 546.99,43.18 546.99,40.99 545.99,40.99 545.99,39.39 544.99,39.39 544.99,37.79 544.00,37.79 544.00,36.19 543.00,36.19 543.00,34.60 542.00,34.60 542.00,33.00 541.00,33.00" fill="#ff0000" fill-opacity="0.3" stroke="none"/>
<polygon points="542.00,33.00 542.99,33.00 542.99,33.05 543.98,33.05 543.98,33.10 544.97,33.10 544.97,33.15 545.96,33.15 545.96,33.20 546.95,33.20 546.95,33.29 547.94,33.29 547.94,33.39 548.92,33.39 548.92,33.49 549.91,33.49 549.91,33.59 550.90,33.59 550.90,34.07 551.89,34.07 551.89,34.59 552.88,34.59 552.88,35.75 553.87,35.75 553.87,37.36 554.86,37.36 554.86,38.97 555.85,38.97 555.85,40.20 556.84,40.20 556.84,41.36 557.83,41.36 557.83,42.53 558.82,42.53 558.82,43.63 559.81,43.63 559.81,44.65 560.79,44.65 560.79,45.67 561.78,45.67 561.78,46.71 562.77,46.71 562.77,47.99 563.76,47.99 563.76,49.27 564.75,49.27 564.75,50.55 565.74,50.55 565.74,51.85 566.73,51.85 566.73,53.16 567.72,53.16 567.72,54.47 568.71,54.47 568.71,55.72 569.70,55.72 569.70,56.77 570.69,56.77 570.69,57.82 571.68,57.82 571.68,58.87 572.66,58.87 572.66,59.76 573.65,59.76 573.65,60.64 574.64,60.64 574.64,61.51 575.63,61.51 575.63,62.13 576.62,62.13 576.62,62.42 577.61,62.42 577.61,62.71 578.60,62.71 578.60,63.00 580.60,63.00 580.60,69.40 591.30,69.40 591.30,70.40 594.70,70.40 594.70,73.20 648.00,73.20 648.00,72.90 721.20,72.90 721.20,72.90 721.20,120.10 721.20,120.10 648.20,120.10 648.20,104.40 623.50,104.40 623.50,96.60 616.10,96.60 616.10,96.20 609.50,96.20 609.50,94.60 602.90,94.60 602.90,92.50 594.70,92.50 594.70,90.00 590.00,90.00 590.00,88.50 585.30,88.50 585.30,84.50 580.60,84.50 580.60,76.00 578.60,76.00 578.60,75.56 577.61,75.56 577.61,75.13 576.62,75.13 576.62,74.69 575.63,74.69 575.63,74.01 574.64,74.01 574.64,73.14 573.65,73.14 573.65,72.26 572.66,72.26 572.66,71.33 571.68,71.33 571.68,69.98 570.69,69.98 570.69,68.63 569.70,68.63 569.70,67.28 568.71,67.28 568.71,65.97 567.72,65.97 567.72,64.66 566.73,64.66 566.73,63.35 565.74,63.35 565.74,61.99 564.75,61.99 564.75,60.53 563.76,60.53 563.76,59.08 562.77,59.08 562.77,57.62 561.78,57.62 561.78,56.40 560.79,56.40 560.79,55.20 559.81,55.20 559.81,54.00 558.82,54.00 558.82,52.74 557.83,52.74 557.83,51.43 556.84,51.43 556.84,50.12 555.85,50.12 555.85,48.69 554.86,48.69 554.86,46.49 553.87,46.49 553.87,44.29 552.88,44.29 552.88,42.38 551.89,42.38 551.89,40.87 550.90,40.87 550.90,39.41 549.91,39.41 549.91,38.42 548.92,38.42 548.92,37.44 547.94,37.44 547.94,36.45 546.95,36.45 546.95,35.47 545.96,35.47 545.96,34.85 544.97,34.85 544.97,34.24 543.98,34.24 543.98,33.62 542.99,33.62 542.99,33.00 542.00,33.00" fill="#00ff00" fill-opacity="0.3" stroke="none"/>
<polyline points="540.70,32.90 541.50,32.90 541.50,33.53 542.31,33.53 542.31,34.16 543.11,34.16 543.11,34.79 543.91,34.79 543.91,35.70 544.72,35.70 544.72,36.86 545.52,36.86 545.52,38.02 546.32,38.02 546.32,39.19 547.13,39.19 547.13,40.46 547.93,40.46 547.93,41.72 548.73,41.72 548.73,42.98 549.54,42.98 549.54,44.38 550.34,44.38 550.34,45.83 551.14,45.83 551.14,47.29 551.95,47.29 551.95,48.69 552.75,48.69 552.75,49.95 553.55,49.95 553.55,51.21 554.36,51.21 554.36,52.48 555.16,52.48 555.16,54.61 555.96,54.61 555.96,56.92 556.77,56.92 556.77,59.09 557.57,59.09 557.57,61.19 558.37,61.19 558.37,63.39 559.18,63.39 559.18,66.52 559.98,66.52 559.98,68.54 560.78,68.54 560.78,70.35 561.59,70.35 561.59,72.16 562.39,72.16 562.39,73.98 563.19,73.98 563.19,75.43 564.00,75.43 564.00,76.52 564.80,76.52 564.80,77.61 565.61,77.61 565.61,78.70 566.41,78.70 566.41,79.78 567.21,79.78 567.21,80.85 568.02,80.85 568.02,81.92 568.82,81.92 568.82,82.99 569.62,82.99 569.62,84.05 570.43,84.05 570.43,85.10 571.23,85.10 571.23,86.14 572.03,86.14 572.03,87.19 572.84,87.19 572.84,88.12 573.64,88.12 573.64,88.87 574.44,88.87 574.44,89.63 575.25,89.63 575.25,90.38 576.05,90.38 576.05,91.14 576.85,91.14 576.85,91.89 577.66,91.89 577.66,92.64 578.46,92.64 578.46,93.37 579.26,93.37 579.26,94.10 580.07,94.10 580.07,94.83 580.87,94.83 580.87,95.54 581.67,95.54 581.67,96.18 582.48,96.18 582.48,96.83 583.28,96.83 583.28,97.48 584.08,97.48 584.08,98.12 584.89,98.12 584.89,98.74 585.69,98.74 585.69,99.13 586.49,99.13 586.49,99.52 587.30,99.52 587.30,99.91 588.10,99.91 588.10,100.30 597.20,100.30 597.20,102.00 602.90,102.00 602.90,103.60 604.60,103.60 604.60,105.30 609.50,105.30 609.50,109.40 626.10,109.40 626.10,113.50 629.10,113.50 629.10,118.80 643.80,118.80 643.80,125.60 713.00,125.60 713.00,125.60" fill="none" stroke="#ff0000" stroke-width="2.4" stroke-linejoin="miter"/>
<polyline points="542.00,32.40 542.80,32.40 542.80,32.59 543.61,32.59 543.61,32.78 544.41,32.78 544.41,32.97 545.22,32.97 545.22,33.17 546.02,33.17 546.02,33.36 546.83,33.36 546.83,33.67 547.63,33.67 547.63,34.02 548.43,34.02 548.43,34.37 549.24,34.37 549.24,34.72 550.04,34.72 550.04,35.07 550.85,35.07 550.85,36.05 551.65,36.05 551.65,37.07 552.45,37.07 552.45,38.21 553.26,38.21 553.26,39.85 554.06,39.85 554.06,41.49 554.87,41.49 554.87,43.13 555.67,43.13 555.67,44.23 556.48,44.23 556.48,45.22 557.28,45.22 557.28,46.22 558.08,46.22 558.08,47.21 558.89,47.21 558.89,48.13 559.69,48.13 559.69,49.01 560.50,49.01 560.50,49.89 561.30,49.89 561.30,50.76 562.10,50.76 562.10,51.76 562.91,51.76 562.91,52.87 563.71,52.87 563.71,53.98 564.52,53.98 564.52,55.09 565.32,55.09 565.32,56.21 566.12,56.21 566.12,57.32 566.93,57.32 566.93,58.43 567.73,58.43 567.73,59.54 568.54,59.54 568.54,60.65 569.34,60.65 569.34,61.62 570.15,61.62 570.15,62.59 570.95,62.59 570.95,63.57 571.75,63.57 571.75,64.54 572.56,64.54 572.56,65.36 573.36,65.36 573.36,66.16 574.17,66.16 574.17,66.97 574.97,66.97 574.97,67.77 575.77,67.77 575.77,68.49 576.58,68.49 576.58,69.18 577.38,69.18 577.38,69.86 578.19,69.86 578.19,70.55 578.99,70.55 578.99,71.70 579.80,71.70 579.80,73.35 580.60,73.35 580.60,75.00 582.60,75.00 582.60,78.40 585.30,78.40 585.30,80.40 588.60,80.40 588.60,81.10 591.30,81.10 591.30,82.40 594.00,82.40 594.00,85.00 597.20,85.00 597.20,85.70 623.10,85.70 623.10,91.40 648.10,91.40 648.10,102.40 722.90,102.40 722.90,102.40" fill="none" stroke="#00ff00" stroke-width="2.4" stroke-linejoin="miter"/>
<line x1="600.50" y1="82.70" x2="600.50" y2="87.10" stroke="#00ff00" stroke-width="0.9" />
<line x1="604.00" y1="82.70" x2="604.00" y2="87.10" stroke="#00ff00" stroke-width="0.9" />
<line x1="608.50" y1="82.70" x2="608.50" y2="87.10" stroke="#00ff00" stroke-width="0.9" />
<line x1="613.00" y1="82.70" x2="613.00" y2="87.10" stroke="#00ff00" stroke-width="0.9" />
<line x1="617.50" y1="82.70" x2="617.50" y2="87.10" stroke="#00ff00" stroke-width="0.9" />
<line x1="619.50" y1="82.70" x2="619.50" y2="87.10" stroke="#00ff00" stroke-width="0.9" />
<line x1="626.30" y1="88.40" x2="626.30" y2="92.80" stroke="#00ff00" stroke-width="0.9" />
<line x1="631.00" y1="88.40" x2="631.00" y2="92.80" stroke="#00ff00" stroke-width="0.9" />
<line x1="634.80" y1="88.40" x2="634.80" y2="92.80" stroke="#00ff00" stroke-width="0.9" />
<line x1="639.50" y1="88.40" x2="639.50" y2="92.80" stroke="#00ff00" stroke-width="0.9" />
<line x1="651.50" y1="99.30" x2="651.50" y2="103.70" stroke="#00ff00" stroke-width="0.9" />
<line x1="655.50" y1="99.30" x2="655.50" y2="103.70" stroke="#00ff00" stroke-width="0.9" />
<line x1="703.00" y1="99.30" x2="703.00" y2="103.70" stroke="#00ff00" stroke-width="0.9" />
<line x1="719.50" y1="99.30" x2="719.50" y2="103.70" stroke="#00ff00" stroke-width="0.9" />
<line x1="584.00" y1="96.50" x2="584.00" y2="100.90" stroke="#ff0000" stroke-width="0.9" />
<line x1="586.50" y1="96.50" x2="586.50" y2="100.90" stroke="#ff0000" stroke-width="0.9" />
<line x1="621.50" y1="106.40" x2="621.50" y2="110.80" stroke="#ff0000" stroke-width="0.9" />
<line x1="634.80" y1="115.80" x2="634.80" y2="120.20" stroke="#ff0000" stroke-width="0.9" />
<line x1="646.00" y1="122.60" x2="646.00" y2="127.00" stroke="#ff0000" stroke-width="0.9" />
<line x1="698.50" y1="122.60" x2="698.50" y2="127.00" stroke="#ff0000" stroke-width="0.9" />
<line x1="712.00" y1="122.60" x2="712.00" y2="127.00" stroke="#ff0000" stroke-width="0.9" />
<line x1="533.30" y1="28.00" x2="533.30" y2="152.20" stroke="#000" stroke-width="1.1" />
<line x1="532.80" y1="151.70" x2="726.70" y2="151.70" stroke="#000" stroke-width="1.1" />
<line x1="530.60" y1="33.20" x2="533.30" y2="33.20" stroke="#333" stroke-width="1" />
<text x="528.90" y="36.00" font-size="7.8" text-anchor="end" fill="#222" stroke="#222" stroke-width="0.22" textLength="13.00" lengthAdjust="spacingAndGlyphs" >1.00</text>
<line x1="530.60" y1="61.53" x2="533.30" y2="61.53" stroke="#333" stroke-width="1" />
<text x="528.90" y="64.33" font-size="7.8" text-anchor="end" fill="#222" stroke="#222" stroke-width="0.22" textLength="13.00" lengthAdjust="spacingAndGlyphs" >0.75</text>
<line x1="530.60" y1="89.85" x2="533.30" y2="89.85" stroke="#333" stroke-width="1" />
<text x="528.90" y="92.65" font-size="7.8" text-anchor="end" fill="#222" stroke="#222" stroke-width="0.22" textLength="13.00" lengthAdjust="spacingAndGlyphs" >0.50</text>
<line x1="530.60" y1="118.17" x2="533.30" y2="118.17" stroke="#333" stroke-width="1" />
<text x="528.90" y="120.97" font-size="7.8" text-anchor="end" fill="#222" stroke="#222" stroke-width="0.22" textLength="13.00" lengthAdjust="spacingAndGlyphs" >0.25</text>
<line x1="530.60" y1="146.50" x2="533.30" y2="146.50" stroke="#333" stroke-width="1" />
<text x="528.90" y="149.30" font-size="7.8" text-anchor="end" fill="#222" stroke="#222" stroke-width="0.22" textLength="13.00" lengthAdjust="spacingAndGlyphs" >0.00</text>
<line x1="542.00" y1="151.70" x2="542.00" y2="154.30" stroke="#333" stroke-width="1" />
<text x="542.00" y="162.20" font-size="7.8" text-anchor="middle" fill="#222" stroke="#222" stroke-width="0.22" textLength="4.10" lengthAdjust="spacingAndGlyphs" >0</text>
<line x1="559.62" y1="151.70" x2="559.62" y2="154.30" stroke="#333" stroke-width="1" />
<text x="559.62" y="162.20" font-size="7.8" text-anchor="middle" fill="#222" stroke="#222" stroke-width="0.22" textLength="4.10" lengthAdjust="spacingAndGlyphs" >1</text>
<line x1="577.24" y1="151.70" x2="577.24" y2="154.30" stroke="#333" stroke-width="1" />
<text x="577.24" y="162.20" font-size="7.8" text-anchor="middle" fill="#222" stroke="#222" stroke-width="0.22" textLength="4.10" lengthAdjust="spacingAndGlyphs" >2</text>
<line x1="594.86" y1="151.70" x2="594.86" y2="154.30" stroke="#333" stroke-width="1" />
<text x="594.86" y="162.20" font-size="7.8" text-anchor="middle" fill="#222" stroke="#222" stroke-width="0.22" textLength="4.10" lengthAdjust="spacingAndGlyphs" >3</text>
<line x1="612.48" y1="151.70" x2="612.48" y2="154.30" stroke="#333" stroke-width="1" />
<text x="612.48" y="162.20" font-size="7.8" text-anchor="middle" fill="#222" stroke="#222" stroke-width="0.22" textLength="4.10" lengthAdjust="spacingAndGlyphs" >4</text>
<line x1="630.10" y1="151.70" x2="630.10" y2="154.30" stroke="#333" stroke-width="1" />
<text x="630.10" y="162.20" font-size="7.8" text-anchor="middle" fill="#222" stroke="#222" stroke-width="0.22" textLength="4.10" lengthAdjust="spacingAndGlyphs" >5</text>
<line x1="647.72" y1="151.70" x2="647.72" y2="154.30" stroke="#333" stroke-width="1" />
<text x="647.72" y="162.20" font-size="7.8" text-anchor="middle" fill="#222" stroke="#222" stroke-width="0.22" textLength="4.10" lengthAdjust="spacingAndGlyphs" >6</text>
<line x1="665.34" y1="151.70" x2="665.34" y2="154.30" stroke="#333" stroke-width="1" />
<text x="665.34" y="162.20" font-size="7.8" text-anchor="middle" fill="#222" stroke="#222" stroke-width="0.22" textLength="4.10" lengthAdjust="spacingAndGlyphs" >7</text>
<line x1="682.96" y1="151.70" x2="682.96" y2="154.30" stroke="#333" stroke-width="1" />
<text x="682.96" y="162.20" font-size="7.8" text-anchor="middle" fill="#222" stroke="#222" stroke-width="0.22" textLength="4.10" lengthAdjust="spacingAndGlyphs" >8</text>
<line x1="700.58" y1="151.70" x2="700.58" y2="154.30" stroke="#333" stroke-width="1" />
<text x="700.58" y="162.20" font-size="7.8" text-anchor="middle" fill="#222" stroke="#222" stroke-width="0.22" textLength="4.10" lengthAdjust="spacingAndGlyphs" >9</text>
<line x1="718.20" y1="151.70" x2="718.20" y2="154.30" stroke="#333" stroke-width="1" />
<text x="718.20" y="162.20" font-size="7.8" text-anchor="middle" fill="#222" stroke="#222" stroke-width="0.22" textLength="8.20" lengthAdjust="spacingAndGlyphs" >10</text>
<text x="633.80" y="172.00" font-size="9.2" text-anchor="middle" fill="#000" stroke="#000" stroke-width="0.22" textLength="52.30" lengthAdjust="spacingAndGlyphs" >Time(months)</text>
<text x="496.90" y="90.10" font-size="8.4" text-anchor="middle" fill="#000" stroke="#000" stroke-width="0.22" textLength="78.70" lengthAdjust="spacingAndGlyphs" transform="rotate(-90 496.90 90.10)" >Survival probability</text>
<text x="545.80" y="126.80" font-size="7.9" text-anchor="start" fill="#111" stroke="#111" stroke-width="0.22" textLength="39.40" lengthAdjust="spacingAndGlyphs" >p=3.803e-04</text>
<text x="584.10" y="12.50" font-size="7.7" text-anchor="start" fill="#000" stroke="#000" stroke-width="0.22" textLength="11.70" lengthAdjust="spacingAndGlyphs" >Risk</text>
<rect x="599.6" y="4.1" width="9.7" height="10.7" fill="#ff0000" fill-opacity="0.3"/>
<line x1="600.00" y1="9.70" x2="609.00" y2="9.70" stroke="#ff0000" stroke-width="2.3" />
<line x1="604.60" y1="6.40" x2="604.60" y2="9.70" stroke="#ff0000" stroke-width="0.9" />
<text x="612.90" y="12.50" font-size="7.7" text-anchor="start" fill="#000" stroke="#000" stroke-width="0.22" textLength="23.90" lengthAdjust="spacingAndGlyphs" >High risk</text>
<rect x="640.2" y="4.1" width="9.7" height="10.7" fill="#00ff00" fill-opacity="0.3"/>
<line x1="640.60" y1="9.70" x2="649.60" y2="9.70" stroke="#00ff00" stroke-width="2.3" />
<line x1="645.10" y1="6.40" x2="645.10" y2="9.70" stroke="#00ff00" stroke-width="0.9" />
<text x="653.70" y="12.50" font-size="7.7" text-anchor="start" fill="#000" stroke="#000" stroke-width="0.22" textLength="21.90" lengthAdjust="spacingAndGlyphs" >Low risk</text>
<line x1="533.50" y1="196.50" x2="533.50" y2="213.10" stroke="#000" stroke-width="1.1" />
<line x1="533.00" y1="212.60" x2="726.90" y2="212.60" stroke="#000" stroke-width="1.1" />
<line x1="531.20" y1="201.20" x2="533.50" y2="201.20" stroke="#000" stroke-width="0.9" />
<line x1="531.20" y1="208.60" x2="533.50" y2="208.60" stroke="#000" stroke-width="0.9" />
<text x="529.80" y="203.70" font-size="7.5" text-anchor="end" fill="#ff0000" stroke="#ff0000" stroke-width="0.22" textLength="28.80" lengthAdjust="spacingAndGlyphs" >High risk</text>
<text x="529.80" y="211.20" font-size="7.5" text-anchor="end" fill="#00ee00" stroke="#00ee00" stroke-width="0.22" textLength="27.00" lengthAdjust="spacingAndGlyphs" >Low risk</text>
<text x="497.00" y="204.00" font-size="8.6" text-anchor="middle" fill="#000" stroke="#000" stroke-width="0.22" textLength="16.40" lengthAdjust="spacingAndGlyphs" transform="rotate(-90 497.00 204.00)" >Risk</text>
<text x="542.00" y="203.60" font-size="7.9" text-anchor="middle" fill="#111" stroke="#111" stroke-width="0.22" textLength="11.85" lengthAdjust="spacingAndGlyphs" >175</text>
<text x="542.00" y="210.70" font-size="7.9" text-anchor="middle" fill="#111" stroke="#111" stroke-width="0.22" textLength="11.85" lengthAdjust="spacingAndGlyphs" >176</text>
<line x1="542.00" y1="212.60" x2="542.00" y2="215.00" stroke="#333" stroke-width="1" />
<text x="542.00" y="222.50" font-size="7.8" text-anchor="middle" fill="#222" stroke="#222" stroke-width="0.22" textLength="4.10" lengthAdjust="spacingAndGlyphs" >0</text>
<text x="559.62" y="203.60" font-size="7.9" text-anchor="middle" fill="#111" stroke="#111" stroke-width="0.22" textLength="11.85" lengthAdjust="spacingAndGlyphs" >103</text>
<text x="559.62" y="210.70" font-size="7.9" text-anchor="middle" fill="#111" stroke="#111" stroke-width="0.22" textLength="11.85" lengthAdjust="spacingAndGlyphs" >124</text>
<line x1="559.62" y1="212.60" x2="559.62" y2="215.00" stroke="#333" stroke-width="1" />
<text x="559.62" y="222.50" font-size="7.8" text-anchor="middle" fill="#222" stroke="#222" stroke-width="0.22" textLength="4.10" lengthAdjust="spacingAndGlyphs" >1</text>
<text x="577.24" y="203.60" font-size="7.9" text-anchor="middle" fill="#111" stroke="#111" stroke-width="0.22" textLength="7.90" lengthAdjust="spacingAndGlyphs" >43</text>
<text x="577.24" y="210.70" font-size="7.9" text-anchor="middle" fill="#111" stroke="#111" stroke-width="0.22" textLength="7.90" lengthAdjust="spacingAndGlyphs" >57</text>
<line x1="577.24" y1="212.60" x2="577.24" y2="215.00" stroke="#333" stroke-width="1" />
<text x="577.24" y="222.50" font-size="7.8" text-anchor="middle" fill="#222" stroke="#222" stroke-width="0.22" textLength="4.10" lengthAdjust="spacingAndGlyphs" >2</text>
<text x="594.86" y="203.60" font-size="7.9" text-anchor="middle" fill="#111" stroke="#111" stroke-width="0.22" textLength="7.90" lengthAdjust="spacingAndGlyphs" >20</text>
<text x="594.86" y="210.70" font-size="7.9" text-anchor="middle" fill="#111" stroke="#111" stroke-width="0.22" textLength="7.90" lengthAdjust="spacingAndGlyphs" >27</text>
<line x1="594.86" y1="212.60" x2="594.86" y2="215.00" stroke="#333" stroke-width="1" />
<text x="594.86" y="222.50" font-size="7.8" text-anchor="middle" fill="#222" stroke="#222" stroke-width="0.22" textLength="4.10" lengthAdjust="spacingAndGlyphs" >3</text>
<text x="612.48" y="203.60" font-size="7.9" text-anchor="middle" fill="#111" stroke="#111" stroke-width="0.22" textLength="3.95" lengthAdjust="spacingAndGlyphs" >9</text>
<text x="612.48" y="210.70" font-size="7.9" text-anchor="middle" fill="#111" stroke="#111" stroke-width="0.22" textLength="7.90" lengthAdjust="spacingAndGlyphs" >14</text>
<line x1="612.48" y1="212.60" x2="612.48" y2="215.00" stroke="#333" stroke-width="1" />
<text x="612.48" y="222.50" font-size="7.8" text-anchor="middle" fill="#222" stroke="#222" stroke-width="0.22" textLength="4.10" lengthAdjust="spacingAndGlyphs" >4</text>
<text x="630.10" y="203.60" font-size="7.9" text-anchor="middle" fill="#111" stroke="#111" stroke-width="0.22" textLength="3.95" lengthAdjust="spacingAndGlyphs" >6</text>
<text x="630.10" y="210.70" font-size="7.9" text-anchor="middle" fill="#111" stroke="#111" stroke-width="0.22" textLength="3.95" lengthAdjust="spacingAndGlyphs" >8</text>
<line x1="630.10" y1="212.60" x2="630.10" y2="215.00" stroke="#333" stroke-width="1" />
<text x="630.10" y="222.50" font-size="7.8" text-anchor="middle" fill="#222" stroke="#222" stroke-width="0.22" textLength="4.10" lengthAdjust="spacingAndGlyphs" >5</text>
<text x="647.72" y="203.60" font-size="7.9" text-anchor="middle" fill="#111" stroke="#111" stroke-width="0.22" textLength="3.95" lengthAdjust="spacingAndGlyphs" >2</text>
<text x="647.72" y="210.70" font-size="7.9" text-anchor="middle" fill="#111" stroke="#111" stroke-width="0.22" textLength="3.95" lengthAdjust="spacingAndGlyphs" >5</text>
<line x1="647.72" y1="212.60" x2="647.72" y2="215.00" stroke="#333" stroke-width="1" />
<text x="647.72" y="222.50" font-size="7.8" text-anchor="middle" fill="#222" stroke="#222" stroke-width="0.22" textLength="4.10" lengthAdjust="spacingAndGlyphs" >6</text>
<text x="665.34" y="203.60" font-size="7.9" text-anchor="middle" fill="#111" stroke="#111" stroke-width="0.22" textLength="3.95" lengthAdjust="spacingAndGlyphs" >2</text>
<text x="665.34" y="210.70" font-size="7.9" text-anchor="middle" fill="#111" stroke="#111" stroke-width="0.22" textLength="3.95" lengthAdjust="spacingAndGlyphs" >2</text>
<line x1="665.34" y1="212.60" x2="665.34" y2="215.00" stroke="#333" stroke-width="1" />
<text x="665.34" y="222.50" font-size="7.8" text-anchor="middle" fill="#222" stroke="#222" stroke-width="0.22" textLength="4.10" lengthAdjust="spacingAndGlyphs" >7</text>
<text x="682.96" y="203.60" font-size="7.9" text-anchor="middle" fill="#111" stroke="#111" stroke-width="0.22" textLength="3.95" lengthAdjust="spacingAndGlyphs" >2</text>
<text x="682.96" y="210.70" font-size="7.9" text-anchor="middle" fill="#111" stroke="#111" stroke-width="0.22" textLength="3.95" lengthAdjust="spacingAndGlyphs" >2</text>
<line x1="682.96" y1="212.60" x2="682.96" y2="215.00" stroke="#333" stroke-width="1" />
<text x="682.96" y="222.50" font-size="7.8" text-anchor="middle" fill="#222" stroke="#222" stroke-width="0.22" textLength="4.10" lengthAdjust="spacingAndGlyphs" >8</text>
<text x="700.58" y="203.60" font-size="7.9" text-anchor="middle" fill="#111" stroke="#111" stroke-width="0.22" textLength="3.95" lengthAdjust="spacingAndGlyphs" >1</text>
<text x="700.58" y="210.70" font-size="7.9" text-anchor="middle" fill="#111" stroke="#111" stroke-width="0.22" textLength="3.95" lengthAdjust="spacingAndGlyphs" >2</text>
<line x1="700.58" y1="212.60" x2="700.58" y2="215.00" stroke="#333" stroke-width="1" />
<text x="700.58" y="222.50" font-size="7.8" text-anchor="middle" fill="#222" stroke="#222" stroke-width="0.22" textLength="4.10" lengthAdjust="spacingAndGlyphs" >9</text>
<text x="718.20" y="203.60" font-size="7.9" text-anchor="middle" fill="#111" stroke="#111" stroke-width="0.22" textLength="3.95" lengthAdjust="spacingAndGlyphs" >0</text>
<text x="718.20" y="210.70" font-size="7.9" text-anchor="middle" fill="#111" stroke="#111" stroke-width="0.22" textLength="3.95" lengthAdjust="spacingAndGlyphs" >1</text>
<line x1="718.20" y1="212.60" x2="718.20" y2="215.00" stroke="#333" stroke-width="1" />
<text x="718.20" y="222.50" font-size="7.8" text-anchor="middle" fill="#222" stroke="#222" stroke-width="0.22" textLength="8.20" lengthAdjust="spacingAndGlyphs" >10</text>
<text x="633.60" y="232.90" font-size="9.2" text-anchor="middle" fill="#000" stroke="#000" stroke-width="0.22" textLength="50.90" lengthAdjust="spacingAndGlyphs" >Time(months)</text>
<g><circle cx="79.04" cy="348.99" r="2.4" fill="#00ff00"/><circle cx="80.59" cy="400.07" r="2.4" fill="#00ff00"/><circle cx="82.13" cy="400.38" r="2.4" fill="#00ff00"/><circle cx="83.68" cy="417.25" r="2.4" fill="#00ff00"/><circle cx="85.23" cy="398.21" r="2.4" fill="#ff0000"/><circle cx="86.78" cy="424.98" r="2.4" fill="#00ff00"/><circle cx="88.32" cy="411.67" r="2.4" fill="#ff0000"/><circle cx="89.87" cy="432.10" r="2.4" fill="#00ff00"/><circle cx="91.42" cy="371.43" r="2.4" fill="#00ff00"/><circle cx="92.97" cy="432.57" r="2.4" fill="#00ff00"/><circle cx="94.36" cy="358.74" r="2.4" fill="#00ff00"/><circle cx="96.06" cy="357.04" r="2.4" fill="#ff0000"/><circle cx="97.61" cy="399.29" r="2.4" fill="#ff0000"/><circle cx="99.31" cy="390.78" r="2.4" fill="#00ff00"/><circle cx="100.71" cy="425.29" r="2.4" fill="#00ff00"/><circle cx="102.56" cy="422.97" r="2.4" fill="#00ff00"/><circle cx="104.11" cy="400.99" r="2.4" fill="#00ff00"/><circle cx="105.35" cy="393.57" r="2.4" fill="#ff0000"/><circle cx="106.90" cy="422.97" r="2.4" fill="#ff0000"/><circle cx="108.44" cy="407.49" r="2.4" fill="#00ff00"/><circle cx="110.15" cy="391.09" r="2.4" fill="#00ff00"/><circle cx="111.85" cy="412.45" r="2.4" fill="#00ff00"/><circle cx="113.09" cy="433.34" r="2.4" fill="#00ff00"/><circle cx="114.95" cy="417.09" r="2.4" fill="#00ff00"/><circle cx="116.49" cy="418.33" r="2.4" fill="#00ff00"/><circle cx="117.73" cy="381.03" r="2.4" fill="#00ff00"/><circle cx="119.28" cy="408.58" r="2.4" fill="#00ff00"/><circle cx="121.14" cy="356.88" r="2.4" fill="#00ff00"/><circle cx="122.68" cy="407.03" r="2.4" fill="#00ff00"/><circle cx="124.23" cy="353.32" r="2.4" fill="#00ff00"/><circle cx="125.62" cy="344.35" r="2.4" fill="#00ff00"/><circle cx="127.33" cy="410.13" r="2.4" fill="#00ff00"/><circle cx="128.87" cy="416.01" r="2.4" fill="#00ff00"/><circle cx="130.42" cy="412.91" r="2.4" fill="#00ff00"/><circle cx="131.66" cy="409.35" r="2.4" fill="#00ff00"/><circle cx="133.52" cy="416.78" r="2.4" fill="#00ff00"/><circle cx="134.91" cy="383.50" r="2.4" fill="#00ff00"/><circle cx="136.61" cy="405.79" r="2.4" fill="#00ff00"/><circle cx="138.16" cy="417.56" r="2.4" fill="#00ff00"/><circle cx="141.26" cy="417.40" r="2.4" fill="#00ff00"/><circle cx="142.80" cy="406.26" r="2.4" fill="#00ff00"/><circle cx="144.20" cy="391.71" r="2.4" fill="#00ff00"/><circle cx="145.80" cy="263.90" r="2.4" fill="#00ff00"/><circle cx="147.45" cy="382.58" r="2.4" fill="#00ff00"/><circle cx="149.00" cy="428.08" r="2.4" fill="#00ff00"/><circle cx="150.54" cy="403.94" r="2.4" fill="#ff0000"/><circle cx="152.09" cy="393.72" r="2.4" fill="#00ff00"/><circle cx="153.64" cy="421.42" r="2.4" fill="#00ff00"/><circle cx="155.34" cy="361.53" r="2.4" fill="#00ff00"/><circle cx="156.73" cy="410.28" r="2.4" fill="#00ff00"/><circle cx="158.59" cy="424.06" r="2.4" fill="#ff0000"/><circle cx="160.14" cy="420.96" r="2.4" fill="#ff0000"/><circle cx="161.38" cy="382.42" r="2.4" fill="#00ff00"/><circle cx="162.93" cy="426.53" r="2.4" fill="#00ff00"/><circle cx="164.47" cy="431.18" r="2.4" fill="#00ff00"/><circle cx="166.18" cy="384.28" r="2.4" fill="#00ff00"/><circle cx="167.57" cy="416.32" r="2.4" fill="#00ff00"/><circle cx="168.81" cy="414.77" r="2.4" fill="#ff0000"/><circle cx="170.83" cy="396.20" r="2.4" fill="#00ff00"/><circle cx="172.38" cy="414.00" r="2.4" fill="#00ff00"/><circle cx="173.93" cy="408.58" r="2.4" fill="#ff0000"/><circle cx="175.48" cy="388.46" r="2.4" fill="#00ff00"/><circle cx="177.03" cy="415.85" r="2.4" fill="#ff0000"/><circle cx="178.57" cy="384.12" r="2.4" fill="#ff0000"/><circle cx="180.12" cy="421.27" r="2.4" fill="#ff0000"/><circle cx="181.67" cy="430.56" r="2.4" fill="#ff0000"/><circle cx="183.22" cy="400.99" r="2.4" fill="#00ff00"/><circle cx="184.76" cy="424.83" r="2.4" fill="#ff0000"/><circle cx="186.31" cy="378.40" r="2.4" fill="#00ff00"/><circle cx="187.86" cy="433.34" r="2.4" fill="#00ff00"/><circle cx="189.72" cy="433.81" r="2.4" fill="#00ff00"/><circle cx="190.95" cy="382.27" r="2.4" fill="#00ff00"/><circle cx="192.50" cy="425.29" r="2.4" fill="#00ff00"/><circle cx="193.74" cy="424.06" r="2.4" fill="#ff0000"/><circle cx="195.60" cy="424.98" r="2.4" fill="#00ff00"/><circle cx="197.15" cy="403.63" r="2.4" fill="#00ff00"/><circle cx="198.69" cy="416.32" r="2.4" fill="#00ff00"/><circle cx="200.24" cy="374.84" r="2.4" fill="#00ff00"/><circle cx="201.79" cy="330.42" r="2.4" fill="#00ff00"/><circle cx="203.34" cy="433.03" r="2.4" fill="#00ff00"/><circle cx="204.88" cy="424.83" r="2.4" fill="#ff0000"/><circle cx="206.43" cy="412.14" r="2.4" fill="#00ff00"/><circle cx="208.29" cy="394.96" r="2.4" fill="#00ff00"/><circle cx="210.30" cy="421.27" r="2.4" fill="#ff0000"/><circle cx="212.62" cy="418.64" r="2.4" fill="#00ff00"/><circle cx="214.17" cy="424.83" r="2.4" fill="#ff0000"/><circle cx="215.72" cy="407.03" r="2.4" fill="#00ff00"/><circle cx="217.27" cy="404.71" r="2.4" fill="#00ff00"/><circle cx="218.81" cy="416.32" r="2.4" fill="#00ff00"/><circle cx="220.67" cy="393.72" r="2.4" fill="#00ff00"/><circle cx="221.91" cy="414.46" r="2.4" fill="#ff0000"/><circle cx="223.46" cy="422.20" r="2.4" fill="#ff0000"/><circle cx="225.31" cy="431.79" r="2.4" fill="#ff0000"/><circle cx="226.86" cy="426.38" r="2.4" fill="#ff0000"/><circle cx="228.10" cy="405.17" r="2.4" fill="#00ff00"/><circle cx="229.96" cy="404.86" r="2.4" fill="#00ff00"/><circle cx="231.51" cy="399.60" r="2.4" fill="#00ff00"/><circle cx="233.05" cy="389.70" r="2.4" fill="#00ff00"/><circle cx="234.29" cy="396.51" r="2.4" fill="#00ff00"/><circle cx="235.84" cy="416.32" r="2.4" fill="#00ff00"/><circle cx="237.85" cy="397.28" r="2.4" fill="#ff0000"/><circle cx="239.24" cy="392.33" r="2.4" fill="#00ff00"/><circle cx="240.79" cy="378.86" r="2.4" fill="#00ff00"/><circle cx="242.03" cy="417.09" r="2.4" fill="#00ff00"/><circle cx="243.58" cy="408.27" r="2.4" fill="#ff0000"/><circle cx="245.13" cy="416.32" r="2.4" fill="#00ff00"/><circle cx="247.14" cy="406.10" r="2.4" fill="#00ff00"/><circle cx="248.22" cy="417.56" r="2.4" fill="#00ff00"/><circle cx="249.77" cy="418.64" r="2.4" fill="#00ff00"/><circle cx="251.78" cy="422.20" r="2.4" fill="#ff0000"/><circle cx="252.86" cy="417.86" r="2.4" fill="#ff0000"/><circle cx="254.72" cy="341.25" r="2.4" fill="#00ff00"/><circle cx="256.27" cy="405.48" r="2.4" fill="#00ff00"/><circle cx="257.82" cy="418.33" r="2.4" fill="#ff0000"/><circle cx="259.52" cy="414.77" r="2.4" fill="#ff0000"/><circle cx="261.07" cy="396.51" r="2.4" fill="#00ff00"/><circle cx="262.46" cy="386.45" r="2.4" fill="#ff0000"/><circle cx="264.16" cy="333.51" r="2.4" fill="#ff0000"/><circle cx="265.71" cy="422.82" r="2.4" fill="#ff0000"/><circle cx="267.26" cy="373.29" r="2.4" fill="#00ff00"/><circle cx="268.34" cy="430.25" r="2.4" fill="#00ff00"/><circle cx="270.52" cy="397.43" r="2.4" fill="#ff0000"/><circle cx="272.07" cy="421.58" r="2.4" fill="#00ff00"/><circle cx="273.62" cy="402.39" r="2.4" fill="#00ff00"/><circle cx="275.17" cy="417.09" r="2.4" fill="#00ff00"/><circle cx="276.72" cy="420.65" r="2.4" fill="#ff0000"/><circle cx="278.26" cy="414.46" r="2.4" fill="#00ff00"/><circle cx="279.35" cy="398.05" r="2.4" fill="#00ff00"/><circle cx="281.36" cy="387.68" r="2.4" fill="#00ff00"/><circle cx="282.91" cy="397.74" r="2.4" fill="#ff0000"/><circle cx="284.45" cy="410.44" r="2.4" fill="#ff0000"/><circle cx="286.00" cy="429.63" r="2.4" fill="#00ff00"/><circle cx="287.55" cy="403.47" r="2.4" fill="#ff0000"/><circle cx="289.10" cy="422.82" r="2.4" fill="#00ff00"/><circle cx="290.65" cy="418.48" r="2.4" fill="#ff0000"/><circle cx="292.19" cy="411.98" r="2.4" fill="#00ff00"/><circle cx="293.74" cy="381.65" r="2.4" fill="#00ff00"/><circle cx="295.29" cy="408.58" r="2.4" fill="#ff0000"/><circle cx="296.84" cy="431.18" r="2.4" fill="#ff0000"/><circle cx="298.38" cy="413.53" r="2.4" fill="#00ff00"/><circle cx="299.93" cy="427.46" r="2.4" fill="#ff0000"/><circle cx="301.48" cy="366.17" r="2.4" fill="#00ff00"/><circle cx="303.03" cy="422.51" r="2.4" fill="#ff0000"/><circle cx="304.58" cy="391.09" r="2.4" fill="#00ff00"/><circle cx="306.43" cy="415.23" r="2.4" fill="#00ff00"/><circle cx="308.29" cy="414.46" r="2.4" fill="#00ff00"/><circle cx="309.22" cy="408.11" r="2.4" fill="#00ff00"/><circle cx="310.77" cy="413.53" r="2.4" fill="#00ff00"/><circle cx="312.20" cy="272.60" r="2.4" fill="#00ff00"/><circle cx="313.86" cy="396.20" r="2.4" fill="#ff0000"/><circle cx="315.41" cy="406.57" r="2.4" fill="#00ff00"/><circle cx="316.96" cy="430.56" r="2.4" fill="#00ff00"/><circle cx="318.50" cy="421.27" r="2.4" fill="#ff0000"/><circle cx="320.05" cy="424.83" r="2.4" fill="#ff0000"/><circle cx="321.60" cy="393.10" r="2.4" fill="#00ff00"/><circle cx="323.46" cy="415.39" r="2.4" fill="#ff0000"/><circle cx="324.70" cy="400.38" r="2.4" fill="#00ff00"/><circle cx="326.24" cy="429.47" r="2.4" fill="#ff0000"/><circle cx="328.10" cy="411.21" r="2.4" fill="#ff0000"/><circle cx="330.89" cy="413.22" r="2.4" fill="#ff0000"/><circle cx="332.74" cy="405.02" r="2.4" fill="#ff0000"/><circle cx="334.29" cy="408.89" r="2.4" fill="#ff0000"/><circle cx="335.84" cy="414.46" r="2.4" fill="#ff0000"/><circle cx="337.08" cy="432.88" r="2.4" fill="#00ff00"/><circle cx="338.94" cy="412.91" r="2.4" fill="#ff0000"/><circle cx="340.48" cy="416.01" r="2.4" fill="#00ff00"/><circle cx="342.03" cy="383.50" r="2.4" fill="#00ff00"/><circle cx="343.58" cy="402.39" r="2.4" fill="#00ff00"/><circle cx="344.82" cy="407.03" r="2.4" fill="#ff0000"/><circle cx="346.67" cy="326.55" r="2.4" fill="#00ff00"/><circle cx="348.22" cy="433.81" r="2.4" fill="#00ff00"/><circle cx="349.77" cy="409.35" r="2.4" fill="#00ff00"/><circle cx="351.32" cy="396.82" r="2.4" fill="#00ff00"/><circle cx="352.86" cy="420.96" r="2.4" fill="#00ff00"/><circle cx="354.72" cy="411.21" r="2.4" fill="#00ff00"/><circle cx="355.96" cy="388.15" r="2.4" fill="#00ff00"/><circle cx="357.51" cy="421.73" r="2.4" fill="#ff0000"/><circle cx="359.06" cy="385.36" r="2.4" fill="#00ff00"/><circle cx="360.91" cy="417.09" r="2.4" fill="#ff0000"/><circle cx="362.15" cy="423.59" r="2.4" fill="#00ff00"/><circle cx="363.70" cy="414.00" r="2.4" fill="#ff0000"/><circle cx="365.25" cy="370.35" r="2.4" fill="#00ff00"/><circle cx="366.79" cy="417.09" r="2.4" fill="#00ff00"/><circle cx="368.51" cy="425.60" r="2.4" fill="#ff0000"/><circle cx="370.06" cy="419.72" r="2.4" fill="#ff0000"/><circle cx="371.61" cy="415.54" r="2.4" fill="#ff0000"/><circle cx="373.16" cy="411.98" r="2.4" fill="#00ff00"/><circle cx="374.70" cy="382.27" r="2.4" fill="#00ff00"/><circle cx="376.25" cy="390.47" r="2.4" fill="#00ff00"/><circle cx="377.80" cy="422.51" r="2.4" fill="#ff0000"/><circle cx="379.35" cy="406.26" r="2.4" fill="#ff0000"/><circle cx="380.89" cy="407.03" r="2.4" fill="#00ff00"/><circle cx="382.44" cy="358.74" r="2.4" fill="#00ff00"/><circle cx="383.99" cy="387.22" r="2.4" fill="#00ff00"/><circle cx="385.54" cy="399.60" r="2.4" fill="#00ff00"/><circle cx="387.09" cy="405.79" r="2.4" fill="#ff0000"/><circle cx="388.63" cy="432.26" r="2.4" fill="#00ff00"/><circle cx="390.18" cy="379.95" r="2.4" fill="#00ff00"/><circle cx="391.73" cy="426.38" r="2.4" fill="#00ff00"/><circle cx="393.28" cy="425.60" r="2.4" fill="#00ff00"/><circle cx="394.82" cy="427.15" r="2.4" fill="#ff0000"/><circle cx="396.37" cy="389.23" r="2.4" fill="#00ff00"/><circle cx="397.92" cy="410.28" r="2.4" fill="#00ff00"/><circle cx="399.47" cy="334.60" r="2.4" fill="#00ff00"/><circle cx="401.02" cy="416.78" r="2.4" fill="#00ff00"/><circle cx="402.56" cy="369.88" r="2.4" fill="#ff0000"/><circle cx="404.11" cy="407.03" r="2.4" fill="#00ff00"/><circle cx="405.66" cy="391.09" r="2.4" fill="#00ff00"/><circle cx="407.21" cy="432.88" r="2.4" fill="#00ff00"/><circle cx="408.75" cy="424.06" r="2.4" fill="#ff0000"/><circle cx="410.30" cy="414.77" r="2.4" fill="#00ff00"/><circle cx="412.16" cy="416.32" r="2.4" fill="#ff0000"/><circle cx="413.40" cy="421.73" r="2.4" fill="#00ff00"/><circle cx="414.95" cy="424.06" r="2.4" fill="#00ff00"/><circle cx="416.49" cy="404.40" r="2.4" fill="#00ff00"/><circle cx="418.04" cy="408.89" r="2.4" fill="#ff0000"/><circle cx="419.90" cy="429.01" r="2.4" fill="#ff0000"/><circle cx="421.14" cy="410.90" r="2.4" fill="#00ff00"/><circle cx="422.68" cy="404.71" r="2.4" fill="#00ff00"/><circle cx="424.54" cy="384.59" r="2.4" fill="#00ff00"/><circle cx="425.78" cy="345.43" r="2.4" fill="#00ff00"/><circle cx="427.64" cy="428.39" r="2.4" fill="#ff0000"/><circle cx="429.18" cy="410.13" r="2.4" fill="#00ff00"/><circle cx="430.42" cy="416.63" r="2.4" fill="#00ff00"/><circle cx="432.28" cy="368.65" r="2.4" fill="#00ff00"/><circle cx="433.83" cy="421.42" r="2.4" fill="#ff0000"/><circle cx="435.53" cy="431.79" r="2.4" fill="#ff0000"/><circle cx="437.39" cy="432.57" r="2.4" fill="#ff0000"/><circle cx="438.47" cy="351.31" r="2.4" fill="#ff0000"/><circle cx="440.02" cy="430.71" r="2.4" fill="#ff0000"/><circle cx="441.26" cy="395.73" r="2.4" fill="#00ff00"/><circle cx="442.80" cy="393.10" r="2.4" fill="#00ff00"/><circle cx="444.35" cy="390.78" r="2.4" fill="#00ff00"/><circle cx="445.90" cy="403.16" r="2.4" fill="#00ff00"/><circle cx="447.80" cy="272.10" r="2.4" fill="#00ff00"/><circle cx="449.00" cy="402.85" r="2.4" fill="#00ff00"/><circle cx="451.01" cy="405.17" r="2.4" fill="#ff0000"/><circle cx="452.40" cy="430.56" r="2.4" fill="#ff0000"/><circle cx="453.95" cy="422.82" r="2.4" fill="#ff0000"/><circle cx="455.50" cy="388.77" r="2.4" fill="#00ff00"/><circle cx="457.04" cy="417.86" r="2.4" fill="#ff0000"/><circle cx="458.59" cy="346.36" r="2.4" fill="#00ff00"/><circle cx="460.29" cy="418.17" r="2.4" fill="#ff0000"/><circle cx="461.69" cy="412.45" r="2.4" fill="#ff0000"/><circle cx="463.23" cy="417.56" r="2.4" fill="#ff0000"/><circle cx="464.78" cy="432.88" r="2.4" fill="#00ff00"/><circle cx="466.79" cy="416.63" r="2.4" fill="#00ff00"/><circle cx="469.12" cy="416.63" r="2.4" fill="#00ff00"/><circle cx="469.60" cy="401.30" r="2.4" fill="#ff0000"/><circle cx="470.83" cy="408.11" r="2.4" fill="#00ff00"/><circle cx="472.69" cy="420.96" r="2.4" fill="#ff0000"/><circle cx="474.24" cy="430.56" r="2.4" fill="#ff0000"/><circle cx="475.79" cy="415.23" r="2.4" fill="#ff0000"/><circle cx="477.33" cy="419.41" r="2.4" fill="#00ff00"/><circle cx="478.88" cy="401.92" r="2.4" fill="#00ff00"/><circle cx="480.43" cy="406.26" r="2.4" fill="#ff0000"/><circle cx="482.13" cy="379.48" r="2.4" fill="#00ff00"/><circle cx="483.53" cy="416.78" r="2.4" fill="#ff0000"/><circle cx="485.00" cy="288.00" r="2.4" fill="#00ff00"/><circle cx="486.62" cy="425.29" r="2.4" fill="#ff0000"/><circle cx="488.17" cy="433.34" r="2.4" fill="#00ff00"/><circle cx="489.72" cy="429.16" r="2.4" fill="#ff0000"/><circle cx="491.26" cy="418.33" r="2.4" fill="#ff0000"/><circle cx="492.81" cy="411.67" r="2.4" fill="#00ff00"/><circle cx="494.36" cy="433.96" r="2.4" fill="#ff0000"/><circle cx="495.91" cy="394.65" r="2.4" fill="#00ff00"/><circle cx="497.46" cy="412.14" r="2.4" fill="#00ff00"/><circle cx="499.00" cy="415.85" r="2.4" fill="#ff0000"/><circle cx="500.55" cy="403.16" r="2.4" fill="#00ff00"/><circle cx="502.10" cy="418.33" r="2.4" fill="#ff0000"/><circle cx="503.80" cy="410.13" r="2.4" fill="#ff0000"/><circle cx="505.35" cy="374.84" r="2.4" fill="#ff0000"/><circle cx="507.21" cy="408.58" r="2.4" fill="#00ff00"/><circle cx="508.44" cy="426.38" r="2.4" fill="#ff0000"/><circle cx="510.30" cy="407.80" r="2.4" fill="#00ff00"/><circle cx="511.54" cy="415.08" r="2.4" fill="#00ff00"/><circle cx="513.09" cy="418.64" r="2.4" fill="#00ff00"/><circle cx="514.64" cy="423.28" r="2.4" fill="#ff0000"/><circle cx="516.18" cy="432.57" r="2.4" fill="#ff0000"/><circle cx="517.73" cy="398.52" r="2.4" fill="#ff0000"/><circle cx="519.28" cy="403.63" r="2.4" fill="#00ff00"/><circle cx="520.83" cy="433.03" r="2.4" fill="#00ff00"/><circle cx="522.37" cy="394.65" r="2.4" fill="#00ff00"/><circle cx="523.92" cy="429.47" r="2.4" fill="#ff0000"/><circle cx="525.47" cy="412.45" r="2.4" fill="#ff0000"/><circle cx="527.02" cy="403.47" r="2.4" fill="#ff0000"/><circle cx="528.57" cy="379.17" r="2.4" fill="#00ff00"/><circle cx="530.11" cy="421.27" r="2.4" fill="#ff0000"/><circle cx="531.66" cy="398.98" r="2.4" fill="#ff0000"/><circle cx="533.21" cy="429.01" r="2.4" fill="#00ff00"/><circle cx="535.07" cy="427.46" r="2.4" fill="#ff0000"/><circle cx="536.30" cy="421.27" r="2.4" fill="#ff0000"/><circle cx="538.16" cy="388.46" r="2.4" fill="#00ff00"/><circle cx="539.40" cy="410.13" r="2.4" fill="#00ff00"/><circle cx="540.95" cy="420.19" r="2.4" fill="#ff0000"/><circle cx="542.80" cy="354.10" r="2.4" fill="#ff0000"/><circle cx="544.35" cy="420.65" r="2.4" fill="#ff0000"/><circle cx="547.45" cy="425.60" r="2.4" fill="#ff0000"/><circle cx="548.69" cy="408.58" r="2.4" fill="#00ff00"/><circle cx="550.54" cy="432.57" r="2.4" fill="#ff0000"/><circle cx="552.09" cy="405.17" r="2.4" fill="#ff0000"/><circle cx="553.64" cy="388.77" r="2.4" fill="#00ff00"/><circle cx="555.19" cy="410.90" r="2.4" fill="#ff0000"/><circle cx="556.73" cy="423.75" r="2.4" fill="#00ff00"/><circle cx="558.28" cy="377.62" r="2.4" fill="#00ff00"/><circle cx="559.83" cy="415.08" r="2.4" fill="#00ff00"/><circle cx="561.38" cy="426.53" r="2.4" fill="#ff0000"/><circle cx="562.93" cy="409.66" r="2.4" fill="#ff0000"/><circle cx="564.47" cy="381.49" r="2.4" fill="#ff0000"/><circle cx="566.02" cy="394.34" r="2.4" fill="#ff0000"/><circle cx="567.57" cy="428.39" r="2.4" fill="#ff0000"/><circle cx="568.81" cy="419.41" r="2.4" fill="#ff0000"/><circle cx="569.12" cy="403.16" r="2.4" fill="#00ff00"/><circle cx="570.52" cy="403.16" r="2.4" fill="#00ff00"/><circle cx="572.38" cy="391.24" r="2.4" fill="#ff0000"/><circle cx="573.93" cy="386.60" r="2.4" fill="#00ff00"/><circle cx="575.17" cy="421.27" r="2.4" fill="#ff0000"/><circle cx="576.72" cy="433.81" r="2.4" fill="#00ff00"/><circle cx="578.26" cy="425.29" r="2.4" fill="#ff0000"/><circle cx="579.81" cy="433.34" r="2.4" fill="#00ff00"/><circle cx="582.91" cy="433.03" r="2.4" fill="#00ff00"/><circle cx="583.22" cy="408.73" r="2.4" fill="#ff0000"/><circle cx="584.76" cy="433.34" r="2.4" fill="#00ff00"/><circle cx="586.31" cy="417.86" r="2.4" fill="#00ff00"/><circle cx="587.55" cy="425.91" r="2.4" fill="#00ff00"/><circle cx="589.10" cy="429.94" r="2.4" fill="#00ff00"/><circle cx="590.95" cy="408.58" r="2.4" fill="#ff0000"/><circle cx="592.50" cy="420.96" r="2.4" fill="#ff0000"/><circle cx="594.05" cy="427.93" r="2.4" fill="#ff0000"/><circle cx="595.60" cy="397.74" r="2.4" fill="#ff0000"/><circle cx="597.15" cy="417.56" r="2.4" fill="#ff0000"/><circle cx="598.69" cy="373.75" r="2.4" fill="#00ff00"/><circle cx="600.24" cy="405.95" r="2.4" fill="#00ff00"/><circle cx="601.79" cy="412.76" r="2.4" fill="#00ff00"/><circle cx="603.34" cy="338.16" r="2.4" fill="#ff0000"/><circle cx="604.88" cy="417.86" r="2.4" fill="#00ff00"/><circle cx="606.43" cy="418.33" r="2.4" fill="#ff0000"/><circle cx="607.98" cy="412.76" r="2.4" fill="#ff0000"/><circle cx="609.22" cy="416.63" r="2.4" fill="#00ff00"/><circle cx="611.08" cy="394.18" r="2.4" fill="#ff0000"/><circle cx="612.62" cy="417.09" r="2.4" fill="#ff0000"/><circle cx="614.17" cy="426.84" r="2.4" fill="#ff0000"/><circle cx="616.03" cy="409.35" r="2.4" fill="#ff0000"/><circle cx="617.27" cy="431.49" r="2.4" fill="#ff0000"/><circle cx="619.28" cy="417.40" r="2.4" fill="#ff0000"/><circle cx="620.83" cy="418.33" r="2.4" fill="#ff0000"/><circle cx="621.91" cy="430.71" r="2.4" fill="#ff0000"/><circle cx="623.77" cy="429.16" r="2.4" fill="#ff0000"/></g>
<line x1="351.50" y1="257.10" x2="351.50" y2="440.50" stroke="#222" stroke-width="0.9" stroke-dasharray="2.6,2.3" stroke-dashoffset="2.5"/>
<text x="9.80" y="246.40" font-size="10.8" text-anchor="middle" fill="#000" stroke="#000" stroke-width="0.22" textLength="7.50" lengthAdjust="spacingAndGlyphs" >C</text>
<rect x="57.4" y="257.1" width="588.3000000000001" height="183.39999999999998" fill="none" stroke="#4d4d4d" stroke-width="1.1"/>
<line x1="51.90" y1="433.90" x2="57.40" y2="433.90" stroke="#4d4d4d" stroke-width="1.1" />
<text x="44.40" y="433.90" font-size="8.8" text-anchor="middle" fill="#111" stroke="#111" stroke-width="0.22" textLength="4.85" lengthAdjust="spacingAndGlyphs" transform="rotate(-90 44.40 433.90)" >0</text>
<line x1="51.90" y1="400.56" x2="57.40" y2="400.56" stroke="#4d4d4d" stroke-width="1.1" />
<text x="44.40" y="400.56" font-size="8.8" text-anchor="middle" fill="#111" stroke="#111" stroke-width="0.22" textLength="4.85" lengthAdjust="spacingAndGlyphs" transform="rotate(-90 44.40 400.56)" >2</text>
<line x1="51.90" y1="367.22" x2="57.40" y2="367.22" stroke="#4d4d4d" stroke-width="1.1" />
<text x="44.40" y="367.22" font-size="8.8" text-anchor="middle" fill="#111" stroke="#111" stroke-width="0.22" textLength="4.85" lengthAdjust="spacingAndGlyphs" transform="rotate(-90 44.40 367.22)" >4</text>
<line x1="51.90" y1="333.88" x2="57.40" y2="333.88" stroke="#4d4d4d" stroke-width="1.1" />
<text x="44.40" y="333.88" font-size="8.8" text-anchor="middle" fill="#111" stroke="#111" stroke-width="0.22" textLength="4.85" lengthAdjust="spacingAndGlyphs" transform="rotate(-90 44.40 333.88)" >6</text>
<line x1="51.90" y1="300.54" x2="57.40" y2="300.54" stroke="#4d4d4d" stroke-width="1.1" />
<text x="44.40" y="300.54" font-size="8.8" text-anchor="middle" fill="#111" stroke="#111" stroke-width="0.22" textLength="4.85" lengthAdjust="spacingAndGlyphs" transform="rotate(-90 44.40 300.54)" >8</text>
<line x1="51.90" y1="267.20" x2="57.40" y2="267.20" stroke="#4d4d4d" stroke-width="1.1" />
<text x="44.40" y="267.20" font-size="8.8" text-anchor="middle" fill="#111" stroke="#111" stroke-width="0.22" textLength="9.70" lengthAdjust="spacingAndGlyphs" transform="rotate(-90 44.40 267.20)" >10</text>
<line x1="77.40" y1="440.50" x2="77.40" y2="446.10" stroke="#4d4d4d" stroke-width="1.1" />
<text x="77.40" y="461.60" font-size="8.8" text-anchor="middle" fill="#111" stroke="#111" stroke-width="0.22" textLength="4.85" lengthAdjust="spacingAndGlyphs" >0</text>
<line x1="155.23" y1="440.50" x2="155.23" y2="446.10" stroke="#4d4d4d" stroke-width="1.1" />
<text x="155.23" y="461.60" font-size="8.8" text-anchor="middle" fill="#111" stroke="#111" stroke-width="0.22" textLength="9.70" lengthAdjust="spacingAndGlyphs" >50</text>
<line x1="233.06" y1="440.50" x2="233.06" y2="446.10" stroke="#4d4d4d" stroke-width="1.1" />
<text x="233.06" y="461.60" font-size="8.8" text-anchor="middle" fill="#111" stroke="#111" stroke-width="0.22" textLength="14.55" lengthAdjust="spacingAndGlyphs" >100</text>
<line x1="310.89" y1="440.50" x2="310.89" y2="446.10" stroke="#4d4d4d" stroke-width="1.1" />
<text x="310.89" y="461.60" font-size="8.8" text-anchor="middle" fill="#111" stroke="#111" stroke-width="0.22" textLength="14.55" lengthAdjust="spacingAndGlyphs" >150</text>
<line x1="388.72" y1="440.50" x2="388.72" y2="446.10" stroke="#4d4d4d" stroke-width="1.1" />
<text x="388.72" y="461.60" font-size="8.8" text-anchor="middle" fill="#111" stroke="#111" stroke-width="0.22" textLength="14.55" lengthAdjust="spacingAndGlyphs" >200</text>
<line x1="466.55" y1="440.50" x2="466.55" y2="446.10" stroke="#4d4d4d" stroke-width="1.1" />
<text x="466.55" y="461.60" font-size="8.8" text-anchor="middle" fill="#111" stroke="#111" stroke-width="0.22" textLength="14.55" lengthAdjust="spacingAndGlyphs" >250</text>
<line x1="544.38" y1="440.50" x2="544.38" y2="446.10" stroke="#4d4d4d" stroke-width="1.1" />
<text x="544.38" y="461.60" font-size="8.8" text-anchor="middle" fill="#111" stroke="#111" stroke-width="0.22" textLength="14.55" lengthAdjust="spacingAndGlyphs" >300</text>
<line x1="622.21" y1="440.50" x2="622.21" y2="446.10" stroke="#4d4d4d" stroke-width="1.1" />
<text x="622.21" y="461.60" font-size="8.8" text-anchor="middle" fill="#111" stroke="#111" stroke-width="0.22" textLength="14.55" lengthAdjust="spacingAndGlyphs" >350</text>
<text x="351.40" y="485.60" font-size="9.3" text-anchor="middle" fill="#111" stroke="#111" stroke-width="0.22" textLength="123.50" lengthAdjust="spacingAndGlyphs" >Patients (increasing risk socre)</text>
<text x="22.40" y="348.50" font-size="9.0" text-anchor="middle" fill="#111" stroke="#111" stroke-width="0.22" textLength="88.00" lengthAdjust="spacingAndGlyphs" transform="rotate(-90 22.40 348.50)" >Survival time (years)</text>
<g><circle cx="78.96" cy="689.63" r="1.9" fill="#00ff00"/><circle cx="80.51" cy="688.82" r="1.9" fill="#00ff00"/><circle cx="82.07" cy="688.28" r="1.9" fill="#00ff00"/><circle cx="83.63" cy="688.06" r="1.9" fill="#00ff00"/><circle cx="85.18" cy="687.90" r="1.9" fill="#00ff00"/><circle cx="86.74" cy="687.73" r="1.9" fill="#00ff00"/><circle cx="88.30" cy="687.58" r="1.9" fill="#00ff00"/><circle cx="89.85" cy="687.50" r="1.9" fill="#00ff00"/><circle cx="91.41" cy="687.42" r="1.9" fill="#00ff00"/><circle cx="92.97" cy="687.34" r="1.9" fill="#00ff00"/><circle cx="94.52" cy="687.25" r="1.9" fill="#00ff00"/><circle cx="96.08" cy="687.17" r="1.9" fill="#00ff00"/><circle cx="97.64" cy="687.09" r="1.9" fill="#00ff00"/><circle cx="99.19" cy="687.06" r="1.9" fill="#00ff00"/><circle cx="100.75" cy="687.03" r="1.9" fill="#00ff00"/><circle cx="102.31" cy="686.99" r="1.9" fill="#00ff00"/><circle cx="103.86" cy="686.96" r="1.9" fill="#00ff00"/><circle cx="105.42" cy="686.93" r="1.9" fill="#00ff00"/><circle cx="106.98" cy="686.89" r="1.9" fill="#00ff00"/><circle cx="108.53" cy="686.86" r="1.9" fill="#00ff00"/><circle cx="110.09" cy="686.82" r="1.9" fill="#00ff00"/><circle cx="111.65" cy="686.79" r="1.9" fill="#00ff00"/><circle cx="113.20" cy="686.76" r="1.9" fill="#00ff00"/><circle cx="114.76" cy="686.72" r="1.9" fill="#00ff00"/><circle cx="116.31" cy="686.69" r="1.9" fill="#00ff00"/><circle cx="117.87" cy="686.65" r="1.9" fill="#00ff00"/><circle cx="119.43" cy="686.62" r="1.9" fill="#00ff00"/><circle cx="120.98" cy="686.59" r="1.9" fill="#00ff00"/><circle cx="122.54" cy="686.55" r="1.9" fill="#00ff00"/><circle cx="124.10" cy="686.52" r="1.9" fill="#00ff00"/><circle cx="125.65" cy="686.49" r="1.9" fill="#00ff00"/><circle cx="127.21" cy="686.46" r="1.9" fill="#00ff00"/><circle cx="128.77" cy="686.44" r="1.9" fill="#00ff00"/><circle cx="130.32" cy="686.42" r="1.9" fill="#00ff00"/><circle cx="131.88" cy="686.39" r="1.9" fill="#00ff00"/><circle cx="133.44" cy="686.37" r="1.9" fill="#00ff00"/><circle cx="134.99" cy="686.34" r="1.9" fill="#00ff00"/><circle cx="136.55" cy="686.32" r="1.9" fill="#00ff00"/><circle cx="138.11" cy="686.29" r="1.9" fill="#00ff00"/><circle cx="139.66" cy="686.27" r="1.9" fill="#00ff00"/><circle cx="141.22" cy="686.24" r="1.9" fill="#00ff00"/><circle cx="142.78" cy="686.22" r="1.9" fill="#00ff00"/><circle cx="144.33" cy="686.20" r="1.9" fill="#00ff00"/><circle cx="145.89" cy="686.17" r="1.9" fill="#00ff00"/><circle cx="147.45" cy="686.15" r="1.9" fill="#00ff00"/><circle cx="149.00" cy="686.12" r="1.9" fill="#00ff00"/><circle cx="150.56" cy="686.10" r="1.9" fill="#00ff00"/><circle cx="152.12" cy="686.07" r="1.9" fill="#00ff00"/><circle cx="153.67" cy="686.05" r="1.9" fill="#00ff00"/><circle cx="155.23" cy="686.02" r="1.9" fill="#00ff00"/><circle cx="156.79" cy="686.00" r="1.9" fill="#00ff00"/><circle cx="158.34" cy="685.98" r="1.9" fill="#00ff00"/><circle cx="159.90" cy="685.95" r="1.9" fill="#00ff00"/><circle cx="161.46" cy="685.93" r="1.9" fill="#00ff00"/><circle cx="163.01" cy="685.92" r="1.9" fill="#00ff00"/><circle cx="164.57" cy="685.90" r="1.9" fill="#00ff00"/><circle cx="166.13" cy="685.88" r="1.9" fill="#00ff00"/><circle cx="167.68" cy="685.86" r="1.9" fill="#00ff00"/><circle cx="169.24" cy="685.84" r="1.9" fill="#00ff00"/><circle cx="170.80" cy="685.83" r="1.9" fill="#00ff00"/><circle cx="172.35" cy="685.81" r="1.9" fill="#00ff00"/><circle cx="173.91" cy="685.79" r="1.9" fill="#00ff00"/><circle cx="175.47" cy="685.77" r="1.9" fill="#00ff00"/><circle cx="177.02" cy="685.75" r="1.9" fill="#00ff00"/><circle cx="178.58" cy="685.74" r="1.9" fill="#00ff00"/><circle cx="180.14" cy="685.72" r="1.9" fill="#00ff00"/><circle cx="181.69" cy="685.70" r="1.9" fill="#00ff00"/><circle cx="183.25" cy="685.68" r="1.9" fill="#00ff00"/><circle cx="184.81" cy="685.66" r="1.9" fill="#00ff00"/><circle cx="186.36" cy="685.65" r="1.9" fill="#00ff00"/><circle cx="187.92" cy="685.63" r="1.9" fill="#00ff00"/><circle cx="189.48" cy="685.61" r="1.9" fill="#00ff00"/><circle cx="191.03" cy="685.59" r="1.9" fill="#00ff00"/><circle cx="192.59" cy="685.58" r="1.9" fill="#00ff00"/><circle cx="194.15" cy="685.56" r="1.9" fill="#00ff00"/><circle cx="195.70" cy="685.54" r="1.9" fill="#00ff00"/><circle cx="197.26" cy="685.52" r="1.9" fill="#00ff00"/><circle cx="198.81" cy="685.50" r="1.9" fill="#00ff00"/><circle cx="200.37" cy="685.49" r="1.9" fill="#00ff00"/><circle cx="201.93" cy="685.47" r="1.9" fill="#00ff00"/><circle cx="203.48" cy="685.45" r="1.9" fill="#00ff00"/><circle cx="205.04" cy="685.43" r="1.9" fill="#00ff00"/><circle cx="206.60" cy="685.41" r="1.9" fill="#00ff00"/><circle cx="208.15" cy="685.40" r="1.9" fill="#00ff00"/><circle cx="209.71" cy="685.38" r="1.9" fill="#00ff00"/><circle cx="211.27" cy="685.36" r="1.9" fill="#00ff00"/><circle cx="212.82" cy="685.34" r="1.9" fill="#00ff00"/><circle cx="214.38" cy="685.32" r="1.9" fill="#00ff00"/><circle cx="215.94" cy="685.31" r="1.9" fill="#00ff00"/><circle cx="217.49" cy="685.29" r="1.9" fill="#00ff00"/><circle cx="219.05" cy="685.27" r="1.9" fill="#00ff00"/><circle cx="220.61" cy="685.25" r="1.9" fill="#00ff00"/><circle cx="222.16" cy="685.24" r="1.9" fill="#00ff00"/><circle cx="223.72" cy="685.22" r="1.9" fill="#00ff00"/><circle cx="225.28" cy="685.20" r="1.9" fill="#00ff00"/><circle cx="226.83" cy="685.18" r="1.9" fill="#00ff00"/><circle cx="228.39" cy="685.16" r="1.9" fill="#00ff00"/><circle cx="229.95" cy="685.15" r="1.9" fill="#00ff00"/><circle cx="231.50" cy="685.13" r="1.9" fill="#00ff00"/><circle cx="233.06" cy="685.11" r="1.9" fill="#00ff00"/><circle cx="234.62" cy="685.09" r="1.9" fill="#00ff00"/><circle cx="236.17" cy="685.07" r="1.9" fill="#00ff00"/><circle cx="237.73" cy="685.06" r="1.9" fill="#00ff00"/><circle cx="239.29" cy="685.04" r="1.9" fill="#00ff00"/><circle cx="240.84" cy="685.02" r="1.9" fill="#00ff00"/><circle cx="242.40" cy="685.00" r="1.9" fill="#00ff00"/><circle cx="243.96" cy="684.98" r="1.9" fill="#00ff00"/><circle cx="245.51" cy="684.97" r="1.9" fill="#00ff00"/><circle cx="247.07" cy="684.95" r="1.9" fill="#00ff00"/><circle cx="248.63" cy="684.93" r="1.9" fill="#00ff00"/><circle cx="250.18" cy="684.91" r="1.9" fill="#00ff00"/><circle cx="251.74" cy="684.89" r="1.9" fill="#00ff00"/><circle cx="253.30" cy="684.88" r="1.9" fill="#00ff00"/><circle cx="254.85" cy="684.86" r="1.9" fill="#00ff00"/><circle cx="256.41" cy="684.84" r="1.9" fill="#00ff00"/><circle cx="257.97" cy="684.82" r="1.9" fill="#00ff00"/><circle cx="259.52" cy="684.81" r="1.9" fill="#00ff00"/><circle cx="261.08" cy="684.78" r="1.9" fill="#00ff00"/><circle cx="262.64" cy="684.76" r="1.9" fill="#00ff00"/><circle cx="264.19" cy="684.73" r="1.9" fill="#00ff00"/><circle cx="265.75" cy="684.71" r="1.9" fill="#00ff00"/><circle cx="267.31" cy="684.68" r="1.9" fill="#00ff00"/><circle cx="268.86" cy="684.65" r="1.9" fill="#00ff00"/><circle cx="270.42" cy="684.63" r="1.9" fill="#00ff00"/><circle cx="271.98" cy="684.60" r="1.9" fill="#00ff00"/><circle cx="273.53" cy="684.58" r="1.9" fill="#00ff00"/><circle cx="275.09" cy="684.55" r="1.9" fill="#00ff00"/><circle cx="276.64" cy="684.53" r="1.9" fill="#00ff00"/><circle cx="278.20" cy="684.50" r="1.9" fill="#00ff00"/><circle cx="279.76" cy="684.48" r="1.9" fill="#00ff00"/><circle cx="281.31" cy="684.45" r="1.9" fill="#00ff00"/><circle cx="282.87" cy="684.42" r="1.9" fill="#00ff00"/><circle cx="284.43" cy="684.40" r="1.9" fill="#00ff00"/><circle cx="285.98" cy="684.37" r="1.9" fill="#00ff00"/><circle cx="287.54" cy="684.35" r="1.9" fill="#00ff00"/><circle cx="289.10" cy="684.32" r="1.9" fill="#00ff00"/><circle cx="290.65" cy="684.30" r="1.9" fill="#00ff00"/><circle cx="292.21" cy="684.27" r="1.9" fill="#00ff00"/><circle cx="293.77" cy="684.25" r="1.9" fill="#00ff00"/><circle cx="295.32" cy="684.22" r="1.9" fill="#00ff00"/><circle cx="296.88" cy="684.19" r="1.9" fill="#00ff00"/><circle cx="298.44" cy="684.17" r="1.9" fill="#00ff00"/><circle cx="299.99" cy="684.14" r="1.9" fill="#00ff00"/><circle cx="301.55" cy="684.12" r="1.9" fill="#00ff00"/><circle cx="303.11" cy="684.09" r="1.9" fill="#00ff00"/><circle cx="304.66" cy="684.07" r="1.9" fill="#00ff00"/><circle cx="306.22" cy="684.04" r="1.9" fill="#00ff00"/><circle cx="307.78" cy="684.02" r="1.9" fill="#00ff00"/><circle cx="309.33" cy="683.99" r="1.9" fill="#00ff00"/><circle cx="310.89" cy="683.96" r="1.9" fill="#00ff00"/><circle cx="312.45" cy="683.94" r="1.9" fill="#00ff00"/><circle cx="314.00" cy="683.91" r="1.9" fill="#00ff00"/><circle cx="315.56" cy="683.89" r="1.9" fill="#00ff00"/><circle cx="317.12" cy="683.86" r="1.9" fill="#00ff00"/><circle cx="318.67" cy="683.84" r="1.9" fill="#00ff00"/><circle cx="320.23" cy="683.81" r="1.9" fill="#00ff00"/><circle cx="321.79" cy="683.79" r="1.9" fill="#00ff00"/><circle cx="323.34" cy="683.76" r="1.9" fill="#00ff00"/><circle cx="324.90" cy="683.73" r="1.9" fill="#00ff00"/><circle cx="326.46" cy="683.71" r="1.9" fill="#00ff00"/><circle cx="328.01" cy="683.68" r="1.9" fill="#00ff00"/><circle cx="329.57" cy="683.66" r="1.9" fill="#00ff00"/><circle cx="331.13" cy="683.63" r="1.9" fill="#00ff00"/><circle cx="332.68" cy="683.61" r="1.9" fill="#00ff00"/><circle cx="334.24" cy="683.58" r="1.9" fill="#00ff00"/><circle cx="335.80" cy="683.56" r="1.9" fill="#00ff00"/><circle cx="337.35" cy="683.53" r="1.9" fill="#00ff00"/><circle cx="338.91" cy="683.50" r="1.9" fill="#00ff00"/><circle cx="340.47" cy="683.48" r="1.9" fill="#00ff00"/><circle cx="342.02" cy="683.45" r="1.9" fill="#00ff00"/><circle cx="343.58" cy="683.43" r="1.9" fill="#00ff00"/><circle cx="345.14" cy="683.40" r="1.9" fill="#00ff00"/><circle cx="346.69" cy="683.38" r="1.9" fill="#00ff00"/><circle cx="348.25" cy="683.35" r="1.9" fill="#00ff00"/><circle cx="349.80" cy="683.33" r="1.9" fill="#00ff00"/><circle cx="351.36" cy="683.30" r="1.9" fill="#00ff00"/><circle cx="352.92" cy="683.18" r="1.9" fill="#ff0000"/><circle cx="354.47" cy="683.17" r="1.9" fill="#ff0000"/><circle cx="356.03" cy="683.15" r="1.9" fill="#ff0000"/><circle cx="357.59" cy="683.14" r="1.9" fill="#ff0000"/><circle cx="359.14" cy="683.12" r="1.9" fill="#ff0000"/><circle cx="360.70" cy="683.10" r="1.9" fill="#ff0000"/><circle cx="362.26" cy="683.09" r="1.9" fill="#ff0000"/><circle cx="363.81" cy="683.07" r="1.9" fill="#ff0000"/><circle cx="365.37" cy="683.06" r="1.9" fill="#ff0000"/><circle cx="366.93" cy="683.04" r="1.9" fill="#ff0000"/><circle cx="368.48" cy="683.02" r="1.9" fill="#ff0000"/><circle cx="370.04" cy="683.01" r="1.9" fill="#ff0000"/><circle cx="371.60" cy="682.99" r="1.9" fill="#ff0000"/><circle cx="373.15" cy="682.98" r="1.9" fill="#ff0000"/><circle cx="374.71" cy="682.96" r="1.9" fill="#ff0000"/><circle cx="376.27" cy="682.94" r="1.9" fill="#ff0000"/><circle cx="377.82" cy="682.93" r="1.9" fill="#ff0000"/><circle cx="379.38" cy="682.91" r="1.9" fill="#ff0000"/><circle cx="380.94" cy="682.90" r="1.9" fill="#ff0000"/><circle cx="382.49" cy="682.88" r="1.9" fill="#ff0000"/><circle cx="384.05" cy="682.86" r="1.9" fill="#ff0000"/><circle cx="385.61" cy="682.85" r="1.9" fill="#ff0000"/><circle cx="387.16" cy="682.83" r="1.9" fill="#ff0000"/><circle cx="388.72" cy="682.82" r="1.9" fill="#ff0000"/><circle cx="390.28" cy="682.80" r="1.9" fill="#ff0000"/><circle cx="391.83" cy="682.78" r="1.9" fill="#ff0000"/><circle cx="393.39" cy="682.77" r="1.9" fill="#ff0000"/><circle cx="394.95" cy="682.75" r="1.9" fill="#ff0000"/><circle cx="396.50" cy="682.74" r="1.9" fill="#ff0000"/><circle cx="398.06" cy="682.72" r="1.9" fill="#ff0000"/><circle cx="399.62" cy="682.70" r="1.9" fill="#ff0000"/><circle cx="401.17" cy="682.68" r="1.9" fill="#ff0000"/><circle cx="402.73" cy="682.66" r="1.9" fill="#ff0000"/><circle cx="404.29" cy="682.64" r="1.9" fill="#ff0000"/><circle cx="405.84" cy="682.61" r="1.9" fill="#ff0000"/><circle cx="407.40" cy="682.59" r="1.9" fill="#ff0000"/><circle cx="408.96" cy="682.57" r="1.9" fill="#ff0000"/><circle cx="410.51" cy="682.54" r="1.9" fill="#ff0000"/><circle cx="412.07" cy="682.52" r="1.9" fill="#ff0000"/><circle cx="413.63" cy="682.50" r="1.9" fill="#ff0000"/><circle cx="415.18" cy="682.47" r="1.9" fill="#ff0000"/><circle cx="416.74" cy="682.45" r="1.9" fill="#ff0000"/><circle cx="418.30" cy="682.43" r="1.9" fill="#ff0000"/><circle cx="419.85" cy="682.40" r="1.9" fill="#ff0000"/><circle cx="421.41" cy="682.38" r="1.9" fill="#ff0000"/><circle cx="422.97" cy="682.36" r="1.9" fill="#ff0000"/><circle cx="424.52" cy="682.33" r="1.9" fill="#ff0000"/><circle cx="426.08" cy="682.31" r="1.9" fill="#ff0000"/><circle cx="427.63" cy="682.29" r="1.9" fill="#ff0000"/><circle cx="429.19" cy="682.26" r="1.9" fill="#ff0000"/><circle cx="430.75" cy="682.24" r="1.9" fill="#ff0000"/><circle cx="432.30" cy="682.22" r="1.9" fill="#ff0000"/><circle cx="433.86" cy="682.19" r="1.9" fill="#ff0000"/><circle cx="435.42" cy="682.17" r="1.9" fill="#ff0000"/><circle cx="436.97" cy="682.15" r="1.9" fill="#ff0000"/><circle cx="438.53" cy="682.12" r="1.9" fill="#ff0000"/><circle cx="440.09" cy="682.10" r="1.9" fill="#ff0000"/><circle cx="441.64" cy="682.08" r="1.9" fill="#ff0000"/><circle cx="443.20" cy="682.06" r="1.9" fill="#ff0000"/><circle cx="444.76" cy="682.03" r="1.9" fill="#ff0000"/><circle cx="446.31" cy="682.01" r="1.9" fill="#ff0000"/><circle cx="447.87" cy="681.99" r="1.9" fill="#ff0000"/><circle cx="449.43" cy="681.96" r="1.9" fill="#ff0000"/><circle cx="450.98" cy="681.94" r="1.9" fill="#ff0000"/><circle cx="452.54" cy="681.92" r="1.9" fill="#ff0000"/><circle cx="454.10" cy="681.89" r="1.9" fill="#ff0000"/><circle cx="455.65" cy="681.87" r="1.9" fill="#ff0000"/><circle cx="457.21" cy="681.85" r="1.9" fill="#ff0000"/><circle cx="458.77" cy="681.82" r="1.9" fill="#ff0000"/><circle cx="460.32" cy="681.80" r="1.9" fill="#ff0000"/><circle cx="461.88" cy="681.78" r="1.9" fill="#ff0000"/><circle cx="463.44" cy="681.75" r="1.9" fill="#ff0000"/><circle cx="464.99" cy="681.73" r="1.9" fill="#ff0000"/><circle cx="466.55" cy="681.71" r="1.9" fill="#ff0000"/><circle cx="468.11" cy="681.65" r="1.9" fill="#ff0000"/><circle cx="469.66" cy="681.58" r="1.9" fill="#ff0000"/><circle cx="471.22" cy="681.51" r="1.9" fill="#ff0000"/><circle cx="472.78" cy="681.43" r="1.9" fill="#ff0000"/><circle cx="474.33" cy="681.36" r="1.9" fill="#ff0000"/><circle cx="475.89" cy="681.29" r="1.9" fill="#ff0000"/><circle cx="477.45" cy="681.22" r="1.9" fill="#ff0000"/><circle cx="479.00" cy="681.15" r="1.9" fill="#ff0000"/><circle cx="480.56" cy="681.08" r="1.9" fill="#ff0000"/><circle cx="482.12" cy="681.04" r="1.9" fill="#ff0000"/><circle cx="483.67" cy="681.00" r="1.9" fill="#ff0000"/><circle cx="485.23" cy="680.96" r="1.9" fill="#ff0000"/><circle cx="486.79" cy="680.91" r="1.9" fill="#ff0000"/><circle cx="488.34" cy="680.87" r="1.9" fill="#ff0000"/><circle cx="489.90" cy="680.83" r="1.9" fill="#ff0000"/><circle cx="491.46" cy="680.78" r="1.9" fill="#ff0000"/><circle cx="493.01" cy="680.74" r="1.9" fill="#ff0000"/><circle cx="494.57" cy="680.70" r="1.9" fill="#ff0000"/><circle cx="496.13" cy="680.66" r="1.9" fill="#ff0000"/><circle cx="497.68" cy="680.61" r="1.9" fill="#ff0000"/><circle cx="499.24" cy="680.57" r="1.9" fill="#ff0000"/><circle cx="500.80" cy="680.53" r="1.9" fill="#ff0000"/><circle cx="502.35" cy="680.49" r="1.9" fill="#ff0000"/><circle cx="503.91" cy="680.44" r="1.9" fill="#ff0000"/><circle cx="505.47" cy="680.40" r="1.9" fill="#ff0000"/><circle cx="507.02" cy="680.36" r="1.9" fill="#ff0000"/><circle cx="508.58" cy="680.31" r="1.9" fill="#ff0000"/><circle cx="510.13" cy="680.27" r="1.9" fill="#ff0000"/><circle cx="511.69" cy="680.23" r="1.9" fill="#ff0000"/><circle cx="513.25" cy="680.19" r="1.9" fill="#ff0000"/><circle cx="514.80" cy="680.14" r="1.9" fill="#ff0000"/><circle cx="516.36" cy="680.10" r="1.9" fill="#ff0000"/><circle cx="517.92" cy="680.06" r="1.9" fill="#ff0000"/><circle cx="519.47" cy="680.01" r="1.9" fill="#ff0000"/><circle cx="521.03" cy="679.96" r="1.9" fill="#ff0000"/><circle cx="522.59" cy="679.90" r="1.9" fill="#ff0000"/><circle cx="524.14" cy="679.83" r="1.9" fill="#ff0000"/><circle cx="525.70" cy="679.77" r="1.9" fill="#ff0000"/><circle cx="527.26" cy="679.71" r="1.9" fill="#ff0000"/><circle cx="528.81" cy="679.65" r="1.9" fill="#ff0000"/><circle cx="530.37" cy="679.59" r="1.9" fill="#ff0000"/><circle cx="531.93" cy="679.52" r="1.9" fill="#ff0000"/><circle cx="533.48" cy="679.46" r="1.9" fill="#ff0000"/><circle cx="535.04" cy="679.40" r="1.9" fill="#ff0000"/><circle cx="536.60" cy="679.34" r="1.9" fill="#ff0000"/><circle cx="538.15" cy="679.27" r="1.9" fill="#ff0000"/><circle cx="539.71" cy="679.21" r="1.9" fill="#ff0000"/><circle cx="541.27" cy="679.15" r="1.9" fill="#ff0000"/><circle cx="542.82" cy="679.09" r="1.9" fill="#ff0000"/><circle cx="544.38" cy="679.02" r="1.9" fill="#ff0000"/><circle cx="545.94" cy="678.96" r="1.9" fill="#ff0000"/><circle cx="547.49" cy="678.90" r="1.9" fill="#ff0000"/><circle cx="549.05" cy="678.84" r="1.9" fill="#ff0000"/><circle cx="550.61" cy="678.77" r="1.9" fill="#ff0000"/><circle cx="552.16" cy="678.70" r="1.9" fill="#ff0000"/><circle cx="553.72" cy="678.63" r="1.9" fill="#ff0000"/><circle cx="555.28" cy="678.56" r="1.9" fill="#ff0000"/><circle cx="556.83" cy="678.49" r="1.9" fill="#ff0000"/><circle cx="558.39" cy="678.42" r="1.9" fill="#ff0000"/><circle cx="559.95" cy="678.35" r="1.9" fill="#ff0000"/><circle cx="561.50" cy="678.28" r="1.9" fill="#ff0000"/><circle cx="563.06" cy="678.21" r="1.9" fill="#ff0000"/><circle cx="564.62" cy="678.14" r="1.9" fill="#ff0000"/><circle cx="566.17" cy="678.07" r="1.9" fill="#ff0000"/><circle cx="567.73" cy="678.00" r="1.9" fill="#ff0000"/><circle cx="569.29" cy="677.93" r="1.9" fill="#ff0000"/><circle cx="570.84" cy="677.82" r="1.9" fill="#ff0000"/><circle cx="572.40" cy="677.68" r="1.9" fill="#ff0000"/><circle cx="573.96" cy="677.54" r="1.9" fill="#ff0000"/><circle cx="575.51" cy="677.40" r="1.9" fill="#ff0000"/><circle cx="577.07" cy="677.26" r="1.9" fill="#ff0000"/><circle cx="578.63" cy="677.12" r="1.9" fill="#ff0000"/><circle cx="580.18" cy="676.96" r="1.9" fill="#ff0000"/><circle cx="581.74" cy="676.59" r="1.9" fill="#ff0000"/><circle cx="583.29" cy="676.22" r="1.9" fill="#ff0000"/><circle cx="584.85" cy="675.85" r="1.9" fill="#ff0000"/><circle cx="586.41" cy="675.48" r="1.9" fill="#ff0000"/><circle cx="587.96" cy="675.11" r="1.9" fill="#ff0000"/><circle cx="589.52" cy="674.54" r="1.9" fill="#ff0000"/><circle cx="591.08" cy="673.97" r="1.9" fill="#ff0000"/><circle cx="592.63" cy="673.40" r="1.9" fill="#ff0000"/><circle cx="594.19" cy="672.85" r="1.9" fill="#ff0000"/><circle cx="595.75" cy="672.45" r="1.9" fill="#ff0000"/><circle cx="597.30" cy="672.05" r="1.9" fill="#ff0000"/><circle cx="598.86" cy="671.66" r="1.9" fill="#ff0000"/><circle cx="600.42" cy="671.26" r="1.9" fill="#ff0000"/><circle cx="601.97" cy="670.86" r="1.9" fill="#ff0000"/><circle cx="603.53" cy="670.35" r="1.9" fill="#ff0000"/><circle cx="605.09" cy="669.77" r="1.9" fill="#ff0000"/><circle cx="606.64" cy="669.19" r="1.9" fill="#ff0000"/><circle cx="608.20" cy="668.61" r="1.9" fill="#ff0000"/><circle cx="609.76" cy="667.96" r="1.9" fill="#ff0000"/><circle cx="611.31" cy="667.29" r="1.9" fill="#ff0000"/><circle cx="612.87" cy="666.49" r="1.9" fill="#ff0000"/><circle cx="614.43" cy="665.03" r="1.9" fill="#ff0000"/><circle cx="615.98" cy="663.30" r="1.9" fill="#ff0000"/><circle cx="617.54" cy="658.10" r="1.9" fill="#ff0000"/><circle cx="619.10" cy="656.60" r="1.9" fill="#ff0000"/><circle cx="620.65" cy="641.80" r="1.9" fill="#ff0000"/><circle cx="622.21" cy="609.70" r="1.9" fill="#ff0000"/><circle cx="623.77" cy="519.90" r="1.9" fill="#ff0000"/></g>
<line x1="57.40" y1="683.35" x2="645.70" y2="683.35" stroke="#222" stroke-width="0.9" stroke-dasharray="2.2,2.35" stroke-dashoffset="0.25"/>
<line x1="351.40" y1="513.10" x2="351.40" y2="696.30" stroke="#222" stroke-width="0.9" stroke-dasharray="2.6,2.3" stroke-dashoffset="2.7"/>
<text x="9.80" y="505.20" font-size="10.8" text-anchor="middle" fill="#000" stroke="#000" stroke-width="0.22" textLength="7.50" lengthAdjust="spacingAndGlyphs" >D</text>
<rect x="57.4" y="513.1" width="588.3000000000001" height="183.19999999999993" fill="none" stroke="#4d4d4d" stroke-width="1.1"/>
<line x1="51.90" y1="691.40" x2="57.40" y2="691.40" stroke="#4d4d4d" stroke-width="1.1" />
<text x="44.40" y="691.40" font-size="8.8" text-anchor="middle" fill="#111" stroke="#111" stroke-width="0.22" textLength="4.85" lengthAdjust="spacingAndGlyphs" transform="rotate(-90 44.40 691.40)" >0</text>
<line x1="51.90" y1="649.90" x2="57.40" y2="649.90" stroke="#4d4d4d" stroke-width="1.1" />
<text x="44.40" y="649.90" font-size="8.8" text-anchor="middle" fill="#111" stroke="#111" stroke-width="0.22" textLength="4.85" lengthAdjust="spacingAndGlyphs" transform="rotate(-90 44.40 649.90)" >5</text>
<line x1="51.90" y1="608.40" x2="57.40" y2="608.40" stroke="#4d4d4d" stroke-width="1.1" />
<text x="44.40" y="608.40" font-size="8.8" text-anchor="middle" fill="#111" stroke="#111" stroke-width="0.22" textLength="9.70" lengthAdjust="spacingAndGlyphs" transform="rotate(-90 44.40 608.40)" >10</text>
<line x1="51.90" y1="566.90" x2="57.40" y2="566.90" stroke="#4d4d4d" stroke-width="1.1" />
<text x="44.40" y="566.90" font-size="8.8" text-anchor="middle" fill="#111" stroke="#111" stroke-width="0.22" textLength="9.70" lengthAdjust="spacingAndGlyphs" transform="rotate(-90 44.40 566.90)" >15</text>
<line x1="51.90" y1="525.40" x2="57.40" y2="525.40" stroke="#4d4d4d" stroke-width="1.1" />
<text x="44.40" y="525.40" font-size="8.8" text-anchor="middle" fill="#111" stroke="#111" stroke-width="0.22" textLength="9.70" lengthAdjust="spacingAndGlyphs" transform="rotate(-90 44.40 525.40)" >20</text>
<line x1="77.40" y1="696.30" x2="77.40" y2="701.90" stroke="#4d4d4d" stroke-width="1.1" />
<text x="77.40" y="717.40" font-size="8.8" text-anchor="middle" fill="#111" stroke="#111" stroke-width="0.22" textLength="4.85" lengthAdjust="spacingAndGlyphs" >0</text>
<line x1="155.23" y1="696.30" x2="155.23" y2="701.90" stroke="#4d4d4d" stroke-width="1.1" />
<text x="155.23" y="717.40" font-size="8.8" text-anchor="middle" fill="#111" stroke="#111" stroke-width="0.22" textLength="9.70" lengthAdjust="spacingAndGlyphs" >50</text>
<line x1="233.06" y1="696.30" x2="233.06" y2="701.90" stroke="#4d4d4d" stroke-width="1.1" />
<text x="233.06" y="717.40" font-size="8.8" text-anchor="middle" fill="#111" stroke="#111" stroke-width="0.22" textLength="14.55" lengthAdjust="spacingAndGlyphs" >100</text>
<line x1="310.89" y1="696.30" x2="310.89" y2="701.90" stroke="#4d4d4d" stroke-width="1.1" />
<text x="310.89" y="717.40" font-size="8.8" text-anchor="middle" fill="#111" stroke="#111" stroke-width="0.22" textLength="14.55" lengthAdjust="spacingAndGlyphs" >150</text>
<line x1="388.72" y1="696.30" x2="388.72" y2="701.90" stroke="#4d4d4d" stroke-width="1.1" />
<text x="388.72" y="717.40" font-size="8.8" text-anchor="middle" fill="#111" stroke="#111" stroke-width="0.22" textLength="14.55" lengthAdjust="spacingAndGlyphs" >200</text>
<line x1="466.55" y1="696.30" x2="466.55" y2="701.90" stroke="#4d4d4d" stroke-width="1.1" />
<text x="466.55" y="717.40" font-size="8.8" text-anchor="middle" fill="#111" stroke="#111" stroke-width="0.22" textLength="14.55" lengthAdjust="spacingAndGlyphs" >250</text>
<line x1="544.38" y1="696.30" x2="544.38" y2="701.90" stroke="#4d4d4d" stroke-width="1.1" />
<text x="544.38" y="717.40" font-size="8.8" text-anchor="middle" fill="#111" stroke="#111" stroke-width="0.22" textLength="14.55" lengthAdjust="spacingAndGlyphs" >300</text>
<line x1="622.21" y1="696.30" x2="622.21" y2="701.90" stroke="#4d4d4d" stroke-width="1.1" />
<text x="622.21" y="717.40" font-size="8.8" text-anchor="middle" fill="#111" stroke="#111" stroke-width="0.22" textLength="14.55" lengthAdjust="spacingAndGlyphs" >350</text>
<text x="351.40" y="741.40" font-size="9.3" text-anchor="middle" fill="#111" stroke="#111" stroke-width="0.22" textLength="123.50" lengthAdjust="spacingAndGlyphs" >Patients (increasing risk socre)</text>
<text x="23.00" y="604.80" font-size="9.2" text-anchor="middle" fill="#111" stroke="#111" stroke-width="0.22" textLength="45.00" lengthAdjust="spacingAndGlyphs" transform="rotate(-90 23.00 604.80)" >Risk score</text>
</svg>
</body></html>
